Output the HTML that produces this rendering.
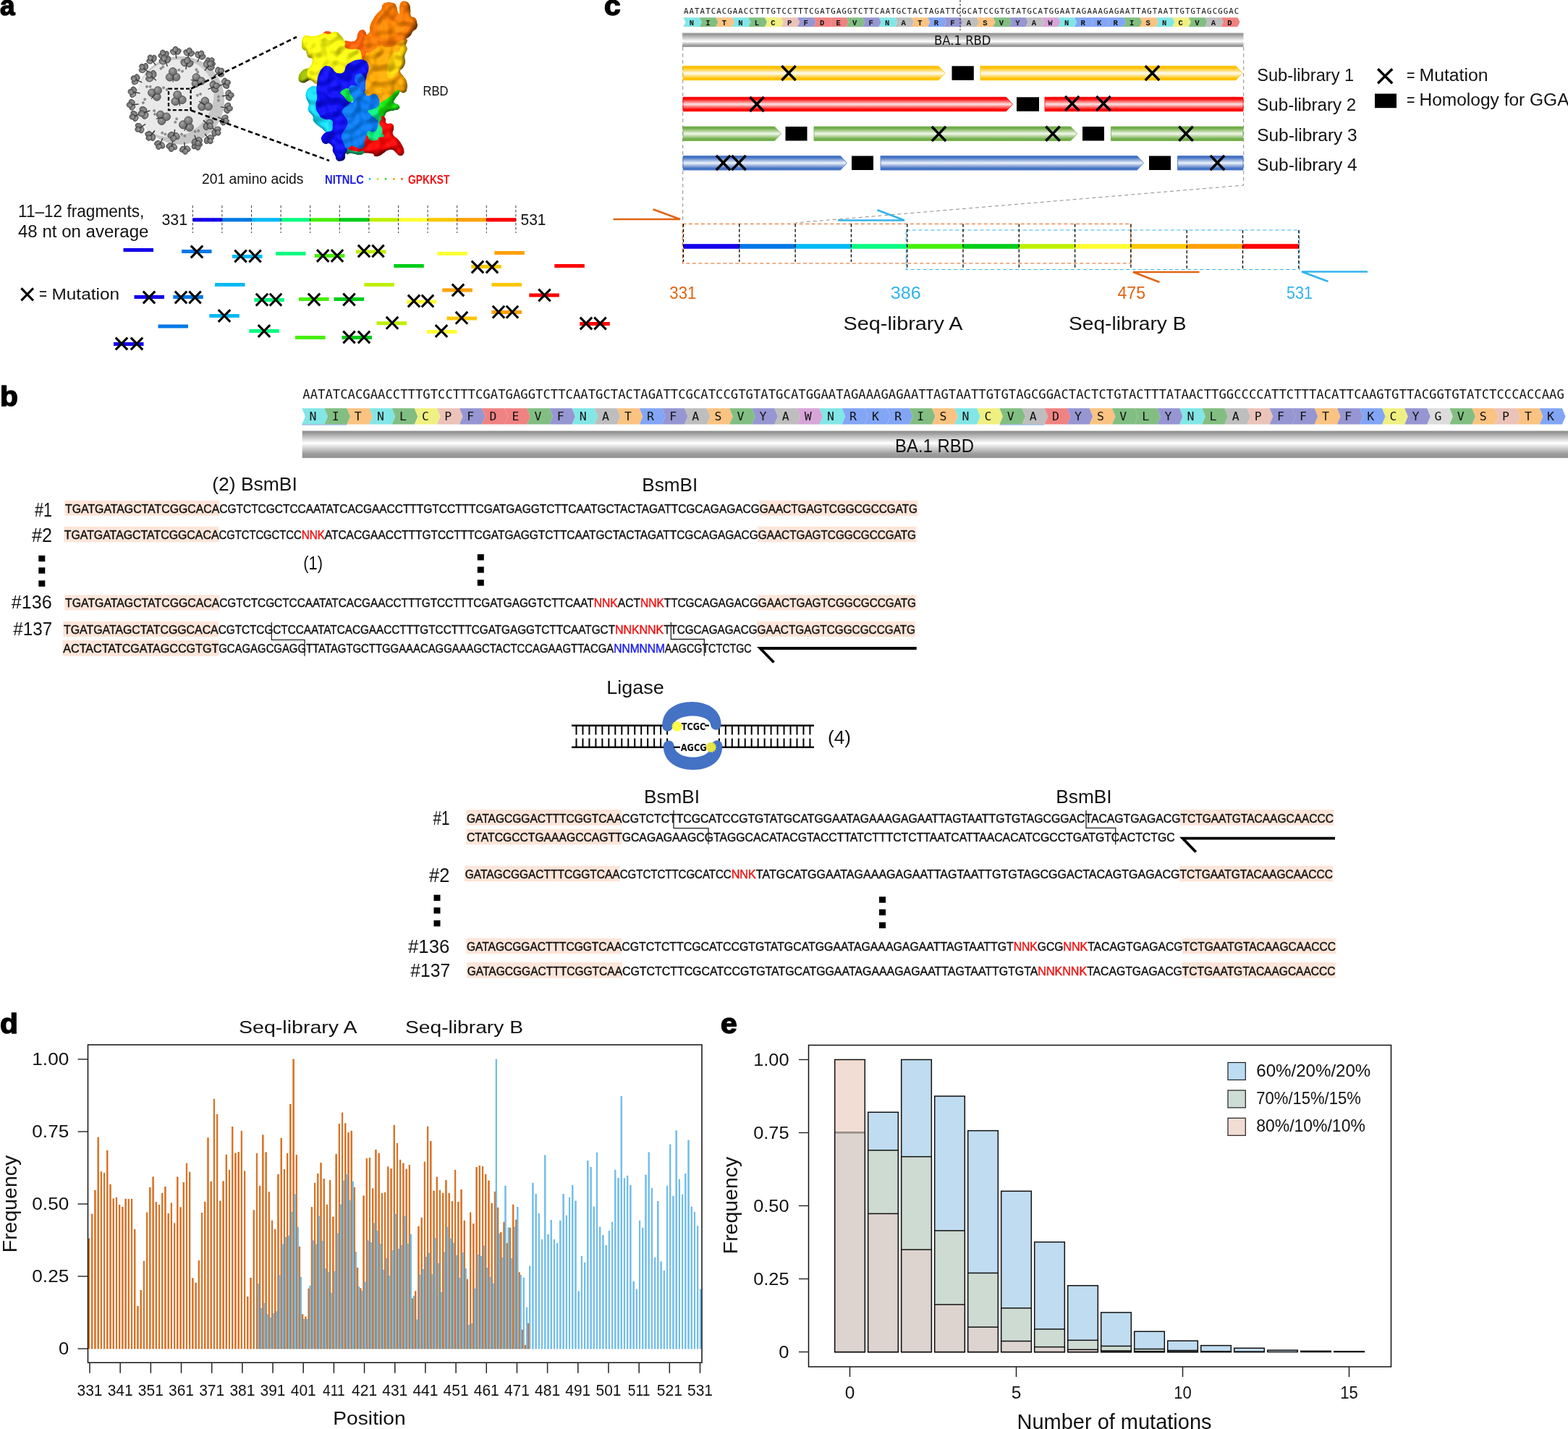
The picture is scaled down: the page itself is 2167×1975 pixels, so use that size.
<!DOCTYPE html>
<html lang="en"><head><meta charset="utf-8"><title>Figure</title>
<style>
html,body{margin:0;padding:0;background:#fff}
svg{display:block}
text{font-family:"Liberation Sans",Arial,sans-serif}
text.m,.mm text{font-family:"Liberation Mono","DejaVu Sans Mono",monospace}
text.d,.dd text{font-family:"DejaVu Sans Mono","Liberation Mono",monospace}
text.c{font-family:"DejaVu Sans","Liberation Sans",sans-serif}
</style></head>
<body>
<svg width="2167" height="1975" viewBox="0 0 2167 1975" role="img" aria-label="Figure: RBD deep mutational library design">
<text x="0" y="21.2" font-size="38.5" font-weight="bold" fill="#000" stroke="#000" stroke-width="1.5" stroke-linejoin="round" textLength="20.6" lengthAdjust="spacingAndGlyphs">a</text>
<defs><radialGradient id="sg" cx="0.4" cy="0.35" r="0.7"><stop offset="0" stop-color="#a2a2a2"/><stop offset="0.45" stop-color="#828282"/><stop offset="1" stop-color="#6a6a6a"/></radialGradient></defs>
<g>
<circle cx="249.2" cy="138.7" r="61" fill="#c6c6c6"/>
<ellipse cx="244.7" cy="131.2" rx="57" ry="51" fill="#e9e9e9" transform="rotate(-40 249.2 138.7)"/>
<circle cx="222.38" cy="94.79" r="1.5" fill="#9a9a9a" stroke="#5a5a5a" stroke-width="0.6"/>
<circle cx="225.15" cy="92.48" r="1.5" fill="#9a9a9a" stroke="#5a5a5a" stroke-width="0.6"/>
<circle cx="271.42" cy="96.18" r="1.5" fill="#9a9a9a" stroke="#5a5a5a" stroke-width="0.6"/>
<circle cx="273.27" cy="99.42" r="1.5" fill="#9a9a9a" stroke="#5a5a5a" stroke-width="0.6"/>
<circle cx="202.94" cy="119.78" r="1.5" fill="#9a9a9a" stroke="#5a5a5a" stroke-width="0.6"/>
<circle cx="207.57" cy="119.78" r="1.5" fill="#9a9a9a" stroke="#5a5a5a" stroke-width="0.6"/>
<circle cx="226.08" cy="121.17" r="1.5" fill="#9a9a9a" stroke="#5a5a5a" stroke-width="0.6"/>
<circle cx="230.7" cy="123.94" r="1.5" fill="#9a9a9a" stroke="#5a5a5a" stroke-width="0.6"/>
<circle cx="272.81" cy="131.81" r="1.5" fill="#9a9a9a" stroke="#5a5a5a" stroke-width="0.6"/>
<circle cx="276.97" cy="129.96" r="1.5" fill="#9a9a9a" stroke="#5a5a5a" stroke-width="0.6"/>
<circle cx="197.85" cy="141.99" r="1.5" fill="#9a9a9a" stroke="#5a5a5a" stroke-width="0.6"/>
<circle cx="200.17" cy="137.36" r="1.5" fill="#9a9a9a" stroke="#5a5a5a" stroke-width="0.6"/>
<circle cx="213.12" cy="153.09" r="1.5" fill="#9a9a9a" stroke="#5a5a5a" stroke-width="0.6"/>
<circle cx="214.05" cy="157.72" r="1.5" fill="#9a9a9a" stroke="#5a5a5a" stroke-width="0.6"/>
<circle cx="242.27" cy="168.83" r="1.5" fill="#9a9a9a" stroke="#5a5a5a" stroke-width="0.6"/>
<circle cx="244.12" cy="164.2" r="1.5" fill="#9a9a9a" stroke="#5a5a5a" stroke-width="0.6"/>
<circle cx="269.57" cy="181.78" r="1.5" fill="#9a9a9a" stroke="#5a5a5a" stroke-width="0.6"/>
<circle cx="274.2" cy="180.86" r="1.5" fill="#9a9a9a" stroke="#5a5a5a" stroke-width="0.6"/>
<circle cx="224.23" cy="183.63" r="1.5" fill="#9a9a9a" stroke="#5a5a5a" stroke-width="0.6"/>
<circle cx="228.39" cy="185.48" r="1.5" fill="#9a9a9a" stroke="#5a5a5a" stroke-width="0.6"/>
<circle cx="251.06" cy="185.48" r="1.5" fill="#9a9a9a" stroke="#5a5a5a" stroke-width="0.6"/>
<circle cx="255.23" cy="187.8" r="1.5" fill="#9a9a9a" stroke="#5a5a5a" stroke-width="0.6"/>
<circle cx="301.96" cy="133.66" r="1.5" fill="#9a9a9a" stroke="#5a5a5a" stroke-width="0.6"/>
<circle cx="301.96" cy="138.75" r="1.5" fill="#9a9a9a" stroke="#5a5a5a" stroke-width="0.6"/>
<circle cx="251.99" cy="98.49" r="1.5" fill="#9a9a9a" stroke="#5a5a5a" stroke-width="0.6"/>
<circle cx="247.36" cy="96.64" r="1.5" fill="#9a9a9a" stroke="#5a5a5a" stroke-width="0.6"/>
<ellipse cx="239.18" cy="71.96" rx="4.25" ry="3.25" fill="url(#sg)" stroke="#3a3a3a" stroke-width="0.8" transform="rotate(-133.44 239.18 71.96)"/>
<ellipse cx="246.46" cy="71.27" rx="4.25" ry="3.25" fill="url(#sg)" stroke="#3a3a3a" stroke-width="0.8" transform="rotate(-57.44 246.46 71.27)"/>
<ellipse cx="242.5" cy="68.27" rx="4.01" ry="3.42" fill="url(#sg)" stroke="#3a3a3a" stroke-width="0.8" transform="rotate(-95.44 242.5 68.27)"/>
<path d="M243.64 80.19L242.78 71.23" stroke="#3c3c3c" stroke-width="1.5" stroke-linecap="round"/>
<ellipse cx="257.49" cy="72.8" rx="4.25" ry="3.25" fill="url(#sg)" stroke="#3a3a3a" stroke-width="0.8" transform="rotate(-117.7 257.49 72.8)"/>
<ellipse cx="264.68" cy="74.11" rx="4.25" ry="3.25" fill="url(#sg)" stroke="#3a3a3a" stroke-width="0.8" transform="rotate(-41.7 264.68 74.11)"/>
<ellipse cx="261.69" cy="70.14" rx="4.01" ry="3.42" fill="url(#sg)" stroke="#3a3a3a" stroke-width="0.8" transform="rotate(-79.7 261.69 70.14)"/>
<path d="M259.54 81.93L261.15 73.07" stroke="#3c3c3c" stroke-width="1.5" stroke-linecap="round"/>
<ellipse cx="273.27" cy="75.61" rx="4.25" ry="3.25" fill="url(#sg)" stroke="#3a3a3a" stroke-width="0.8" transform="rotate(-104.04 273.27 75.61)"/>
<ellipse cx="279.96" cy="78.58" rx="4.25" ry="3.25" fill="url(#sg)" stroke="#3a3a3a" stroke-width="0.8" transform="rotate(-28.04 279.96 78.58)"/>
<ellipse cx="277.98" cy="74.02" rx="4.01" ry="3.42" fill="url(#sg)" stroke="#3a3a3a" stroke-width="0.8" transform="rotate(-66.04 277.98 74.02)"/>
<path d="M273.12 84.97L276.77 76.74" stroke="#3c3c3c" stroke-width="1.5" stroke-linecap="round"/>
<ellipse cx="287.43" cy="83.98" rx="4.25" ry="3.25" fill="url(#sg)" stroke="#3a3a3a" stroke-width="0.8" transform="rotate(-89.95 287.43 83.98)"/>
<ellipse cx="293.19" cy="88.49" rx="4.25" ry="3.25" fill="url(#sg)" stroke="#3a3a3a" stroke-width="0.8" transform="rotate(-13.95 293.19 88.49)"/>
<ellipse cx="292.38" cy="83.59" rx="4.01" ry="3.42" fill="url(#sg)" stroke="#3a3a3a" stroke-width="0.8" transform="rotate(-51.95 292.38 83.59)"/>
<path d="M285 93.02L290.55 85.93" stroke="#3c3c3c" stroke-width="1.5" stroke-linecap="round"/>
<ellipse cx="300.96" cy="96.97" rx="4.25" ry="3.25" fill="url(#sg)" stroke="#3a3a3a" stroke-width="0.8" transform="rotate(-73.77 300.96 96.97)"/>
<ellipse cx="305.23" cy="102.91" rx="4.25" ry="3.25" fill="url(#sg)" stroke="#3a3a3a" stroke-width="0.8" transform="rotate(2.23 305.23 102.91)"/>
<ellipse cx="305.82" cy="97.97" rx="4.01" ry="3.42" fill="url(#sg)" stroke="#3a3a3a" stroke-width="0.8" transform="rotate(-35.77 305.82 97.97)"/>
<path d="M296.1 104.97L303.41 99.71" stroke="#3c3c3c" stroke-width="1.5" stroke-linecap="round"/>
<ellipse cx="310.03" cy="112.04" rx="4.25" ry="3.25" fill="url(#sg)" stroke="#3a3a3a" stroke-width="0.8" transform="rotate(-58.56 310.03 112.04)"/>
<ellipse cx="312.6" cy="118.89" rx="4.25" ry="3.25" fill="url(#sg)" stroke="#3a3a3a" stroke-width="0.8" transform="rotate(17.44 312.6 118.89)"/>
<ellipse cx="314.46" cy="114.28" rx="4.01" ry="3.42" fill="url(#sg)" stroke="#3a3a3a" stroke-width="0.8" transform="rotate(-20.56 314.46 114.28)"/>
<path d="M303.25 118.49L311.67 115.33" stroke="#3c3c3c" stroke-width="1.5" stroke-linecap="round"/>
<ellipse cx="315.51" cy="128.26" rx="4.25" ry="3.25" fill="url(#sg)" stroke="#3a3a3a" stroke-width="0.8" transform="rotate(-43.87 315.51 128.26)"/>
<ellipse cx="316.26" cy="135.54" rx="4.25" ry="3.25" fill="url(#sg)" stroke="#3a3a3a" stroke-width="0.8" transform="rotate(32.13 316.26 135.54)"/>
<ellipse cx="319.23" cy="131.56" rx="4.01" ry="3.42" fill="url(#sg)" stroke="#3a3a3a" stroke-width="0.8" transform="rotate(-5.87 319.23 131.56)"/>
<path d="M307.32 132.78L316.27 131.86" stroke="#3c3c3c" stroke-width="1.5" stroke-linecap="round"/>
<ellipse cx="314.63" cy="145.64" rx="4.25" ry="3.25" fill="url(#sg)" stroke="#3a3a3a" stroke-width="0.8" transform="rotate(-28.8 314.63 145.64)"/>
<ellipse cx="313.46" cy="152.86" rx="4.25" ry="3.25" fill="url(#sg)" stroke="#3a3a3a" stroke-width="0.8" transform="rotate(47.2 313.46 152.86)"/>
<ellipse cx="317.36" cy="149.79" rx="4.01" ry="3.42" fill="url(#sg)" stroke="#3a3a3a" stroke-width="0.8" transform="rotate(9.2 317.36 149.79)"/>
<path d="M305.54 147.87L314.42 149.31" stroke="#3c3c3c" stroke-width="1.5" stroke-linecap="round"/>
<ellipse cx="310.97" cy="162.35" rx="4.25" ry="3.25" fill="url(#sg)" stroke="#3a3a3a" stroke-width="0.8" transform="rotate(-13.92 310.97 162.35)"/>
<ellipse cx="307.99" cy="169.03" rx="4.25" ry="3.25" fill="url(#sg)" stroke="#3a3a3a" stroke-width="0.8" transform="rotate(62.08 307.99 169.03)"/>
<ellipse cx="312.55" cy="167.06" rx="4.01" ry="3.42" fill="url(#sg)" stroke="#3a3a3a" stroke-width="0.8" transform="rotate(24.08 312.55 167.06)"/>
<path d="M301.62 162.17L309.83 165.85" stroke="#3c3c3c" stroke-width="1.5" stroke-linecap="round"/>
<ellipse cx="300.9" cy="178.43" rx="4.25" ry="3.25" fill="url(#sg)" stroke="#3a3a3a" stroke-width="0.8" transform="rotate(2.73 300.9 178.43)"/>
<ellipse cx="296.13" cy="183.98" rx="4.25" ry="3.25" fill="url(#sg)" stroke="#3a3a3a" stroke-width="0.8" transform="rotate(78.73 296.13 183.98)"/>
<ellipse cx="301.06" cy="183.4" rx="4.01" ry="3.42" fill="url(#sg)" stroke="#3a3a3a" stroke-width="0.8" transform="rotate(40.73 301.06 183.4)"/>
<path d="M291.99 175.58L298.81 181.46" stroke="#3c3c3c" stroke-width="1.5" stroke-linecap="round"/>
<ellipse cx="291.43" cy="190.01" rx="4.25" ry="3.25" fill="url(#sg)" stroke="#3a3a3a" stroke-width="0.8" transform="rotate(15.68 291.43 190.01)"/>
<ellipse cx="285.53" cy="194.34" rx="4.25" ry="3.25" fill="url(#sg)" stroke="#3a3a3a" stroke-width="0.8" transform="rotate(91.68 285.53 194.34)"/>
<ellipse cx="290.47" cy="194.88" rx="4.01" ry="3.42" fill="url(#sg)" stroke="#3a3a3a" stroke-width="0.8" transform="rotate(53.68 290.47 194.88)"/>
<path d="M283.38 185.23L288.71 192.48" stroke="#3c3c3c" stroke-width="1.5" stroke-linecap="round"/>
<ellipse cx="275.47" cy="199.11" rx="4.25" ry="3.25" fill="url(#sg)" stroke="#3a3a3a" stroke-width="0.8" transform="rotate(31.68 275.47 199.11)"/>
<ellipse cx="268.61" cy="201.66" rx="4.25" ry="3.25" fill="url(#sg)" stroke="#3a3a3a" stroke-width="0.8" transform="rotate(107.68 268.61 201.66)"/>
<ellipse cx="273.21" cy="203.54" rx="4.01" ry="3.42" fill="url(#sg)" stroke="#3a3a3a" stroke-width="0.8" transform="rotate(69.68 273.21 203.54)"/>
<path d="M269.05 192.31L272.17 200.75" stroke="#3c3c3c" stroke-width="1.5" stroke-linecap="round"/>
<ellipse cx="259.25" cy="205.54" rx="4.25" ry="3.25" fill="url(#sg)" stroke="#3a3a3a" stroke-width="0.8" transform="rotate(46.56 259.25 205.54)"/>
<ellipse cx="251.96" cy="206.23" rx="4.25" ry="3.25" fill="url(#sg)" stroke="#3a3a3a" stroke-width="0.8" transform="rotate(122.56 251.96 206.23)"/>
<ellipse cx="255.93" cy="209.23" rx="4.01" ry="3.42" fill="url(#sg)" stroke="#3a3a3a" stroke-width="0.8" transform="rotate(84.56 255.93 209.23)"/>
<path d="M254.79 197.31L255.64 206.27" stroke="#3c3c3c" stroke-width="1.5" stroke-linecap="round"/>
<ellipse cx="240.94" cy="202.87" rx="4.25" ry="3.25" fill="url(#sg)" stroke="#3a3a3a" stroke-width="0.8" transform="rotate(62.59 240.94 202.87)"/>
<ellipse cx="233.75" cy="201.52" rx="4.25" ry="3.25" fill="url(#sg)" stroke="#3a3a3a" stroke-width="0.8" transform="rotate(138.59 233.75 201.52)"/>
<ellipse cx="236.73" cy="205.5" rx="4.01" ry="3.42" fill="url(#sg)" stroke="#3a3a3a" stroke-width="0.8" transform="rotate(100.59 236.73 205.5)"/>
<path d="M238.93 193.73L237.27 202.57" stroke="#3c3c3c" stroke-width="1.5" stroke-linecap="round"/>
<ellipse cx="224.21" cy="201.03" rx="4.25" ry="3.25" fill="url(#sg)" stroke="#3a3a3a" stroke-width="0.8" transform="rotate(76.99 224.21 201.03)"/>
<ellipse cx="217.58" cy="197.94" rx="4.25" ry="3.25" fill="url(#sg)" stroke="#3a3a3a" stroke-width="0.8" transform="rotate(152.99 217.58 197.94)"/>
<ellipse cx="219.48" cy="202.54" rx="4.01" ry="3.42" fill="url(#sg)" stroke="#3a3a3a" stroke-width="0.8" transform="rotate(114.99 219.48 202.54)"/>
<path d="M224.54 191.68L220.74 199.84" stroke="#3c3c3c" stroke-width="1.5" stroke-linecap="round"/>
<ellipse cx="210.94" cy="189.94" rx="4.25" ry="3.25" fill="url(#sg)" stroke="#3a3a3a" stroke-width="0.8" transform="rotate(92.07 210.94 189.94)"/>
<ellipse cx="205.34" cy="185.23" rx="4.25" ry="3.25" fill="url(#sg)" stroke="#3a3a3a" stroke-width="0.8" transform="rotate(168.07 205.34 185.23)"/>
<ellipse cx="205.97" cy="190.16" rx="4.01" ry="3.42" fill="url(#sg)" stroke="#3a3a3a" stroke-width="0.8" transform="rotate(130.07 205.97 190.16)"/>
<path d="M213.68 180.99L207.89 187.88" stroke="#3c3c3c" stroke-width="1.5" stroke-linecap="round"/>
<ellipse cx="195.55" cy="179.68" rx="4.25" ry="3.25" fill="url(#sg)" stroke="#3a3a3a" stroke-width="0.8" transform="rotate(107.77 195.55 179.68)"/>
<ellipse cx="191.44" cy="173.63" rx="4.25" ry="3.25" fill="url(#sg)" stroke="#3a3a3a" stroke-width="0.8" transform="rotate(183.77 191.44 173.63)"/>
<ellipse cx="190.71" cy="178.55" rx="4.01" ry="3.42" fill="url(#sg)" stroke="#3a3a3a" stroke-width="0.8" transform="rotate(145.77 190.71 178.55)"/>
<path d="M200.62 171.81L193.18 176.87" stroke="#3c3c3c" stroke-width="1.5" stroke-linecap="round"/>
<ellipse cx="187.38" cy="163.67" rx="4.25" ry="3.25" fill="url(#sg)" stroke="#3a3a3a" stroke-width="0.8" transform="rotate(123.19 187.38 163.67)"/>
<ellipse cx="185.02" cy="156.75" rx="4.25" ry="3.25" fill="url(#sg)" stroke="#3a3a3a" stroke-width="0.8" transform="rotate(199.19 185.02 156.75)"/>
<ellipse cx="183.01" cy="161.3" rx="4.01" ry="3.42" fill="url(#sg)" stroke="#3a3a3a" stroke-width="0.8" transform="rotate(161.19 183.01 161.3)"/>
<path d="M194.35 157.43L185.83 160.34" stroke="#3c3c3c" stroke-width="1.5" stroke-linecap="round"/>
<ellipse cx="182.86" cy="148.33" rx="4.25" ry="3.25" fill="url(#sg)" stroke="#3a3a3a" stroke-width="0.8" transform="rotate(136.91 182.86 148.33)"/>
<ellipse cx="182.21" cy="141.04" rx="4.25" ry="3.25" fill="url(#sg)" stroke="#3a3a3a" stroke-width="0.8" transform="rotate(212.91 182.21 141.04)"/>
<ellipse cx="179.19" cy="144.98" rx="4.01" ry="3.42" fill="url(#sg)" stroke="#3a3a3a" stroke-width="0.8" transform="rotate(174.91 179.19 144.98)"/>
<path d="M191.12 143.92L182.16 144.72" stroke="#3c3c3c" stroke-width="1.5" stroke-linecap="round"/>
<ellipse cx="183.75" cy="130.94" rx="4.25" ry="3.25" fill="url(#sg)" stroke="#3a3a3a" stroke-width="0.8" transform="rotate(-208.02 183.75 130.94)"/>
<ellipse cx="185.01" cy="123.73" rx="4.25" ry="3.25" fill="url(#sg)" stroke="#3a3a3a" stroke-width="0.8" transform="rotate(-132.02 185.01 123.73)"/>
<ellipse cx="181.07" cy="126.75" rx="4.01" ry="3.42" fill="url(#sg)" stroke="#3a3a3a" stroke-width="0.8" transform="rotate(-170.02 181.07 126.75)"/>
<path d="M192.86 128.83L184 127.27" stroke="#3c3c3c" stroke-width="1.5" stroke-linecap="round"/>
<ellipse cx="186.45" cy="113.29" rx="4.25" ry="3.25" fill="url(#sg)" stroke="#3a3a3a" stroke-width="0.8" transform="rotate(-192.82 186.45 113.29)"/>
<ellipse cx="189.57" cy="106.67" rx="4.25" ry="3.25" fill="url(#sg)" stroke="#3a3a3a" stroke-width="0.8" transform="rotate(-116.82 189.57 106.67)"/>
<ellipse cx="184.97" cy="108.54" rx="4.01" ry="3.42" fill="url(#sg)" stroke="#3a3a3a" stroke-width="0.8" transform="rotate(-154.82 184.97 108.54)"/>
<path d="M195.81 113.64L187.66 109.81" stroke="#3c3c3c" stroke-width="1.5" stroke-linecap="round"/>
<ellipse cx="196.56" cy="97.2" rx="4.25" ry="3.25" fill="url(#sg)" stroke="#3a3a3a" stroke-width="0.8" transform="rotate(-176.59 196.56 97.2)"/>
<ellipse cx="201.4" cy="91.71" rx="4.25" ry="3.25" fill="url(#sg)" stroke="#3a3a3a" stroke-width="0.8" transform="rotate(-100.59 201.4 91.71)"/>
<ellipse cx="196.46" cy="92.23" rx="4.01" ry="3.42" fill="url(#sg)" stroke="#3a3a3a" stroke-width="0.8" transform="rotate(-138.59 196.46 92.23)"/>
<path d="M205.44 100.15L198.69 94.2" stroke="#3c3c3c" stroke-width="1.5" stroke-linecap="round"/>
<ellipse cx="206.93" cy="84.66" rx="4.25" ry="3.25" fill="url(#sg)" stroke="#3a3a3a" stroke-width="0.8" transform="rotate(-162.96 206.93 84.66)"/>
<ellipse cx="212.92" cy="80.47" rx="4.25" ry="3.25" fill="url(#sg)" stroke="#3a3a3a" stroke-width="0.8" transform="rotate(-86.96 212.92 80.47)"/>
<ellipse cx="208" cy="79.81" rx="4.01" ry="3.42" fill="url(#sg)" stroke="#3a3a3a" stroke-width="0.8" transform="rotate(-124.96 208 79.81)"/>
<path d="M214.86 89.62L209.71 82.25" stroke="#3c3c3c" stroke-width="1.5" stroke-linecap="round"/>
<ellipse cx="222.94" cy="77.44" rx="4.25" ry="3.25" fill="url(#sg)" stroke="#3a3a3a" stroke-width="0.8" transform="rotate(-148.05 222.94 77.44)"/>
<ellipse cx="229.82" cy="74.94" rx="4.25" ry="3.25" fill="url(#sg)" stroke="#3a3a3a" stroke-width="0.8" transform="rotate(-72.05 229.82 74.94)"/>
<ellipse cx="225.23" cy="73.03" rx="4.01" ry="3.42" fill="url(#sg)" stroke="#3a3a3a" stroke-width="0.8" transform="rotate(-110.05 225.23 73.03)"/>
<path d="M229.33 84.28L226.25 75.83" stroke="#3c3c3c" stroke-width="1.5" stroke-linecap="round"/>
<ellipse cx="224.45" cy="85.14" rx="4.75" ry="3.63" fill="url(#sg)" stroke="#3a3a3a" stroke-width="0.8" transform="rotate(-148.82 224.45 85.14)"/>
<ellipse cx="232.1" cy="82.23" rx="4.75" ry="3.63" fill="url(#sg)" stroke="#3a3a3a" stroke-width="0.8" transform="rotate(-72.82 232.1 82.23)"/>
<ellipse cx="226.94" cy="80.17" rx="4.49" ry="3.83" fill="url(#sg)" stroke="#3a3a3a" stroke-width="0.8" transform="rotate(-110.82 226.94 80.17)"/>
<path d="M231.13 91.17L228.11 83.23" stroke="#3c3c3c" stroke-width="1.5" stroke-linecap="round"/>
<ellipse cx="254.01" cy="86.74" rx="5.04" ry="3.85" fill="url(#sg)" stroke="#3a3a3a" stroke-width="0.8" transform="rotate(-117.96 254.01 86.74)"/>
<ellipse cx="262.56" cy="88.25" rx="5.04" ry="3.85" fill="url(#sg)" stroke="#3a3a3a" stroke-width="0.8" transform="rotate(-41.96 262.56 88.25)"/>
<ellipse cx="258.98" cy="83.57" rx="4.76" ry="4.06" fill="url(#sg)" stroke="#3a3a3a" stroke-width="0.8" transform="rotate(-79.96 258.98 83.57)"/>
<path d="M256.9 95.33L258.38 86.96" stroke="#3c3c3c" stroke-width="1.5" stroke-linecap="round"/>
<ellipse cx="285.21" cy="88.34" rx="4.75" ry="3.63" fill="url(#sg)" stroke="#3a3a3a" stroke-width="0.8" transform="rotate(-88.68 285.21 88.34)"/>
<ellipse cx="291.54" cy="93.52" rx="4.75" ry="3.63" fill="url(#sg)" stroke="#3a3a3a" stroke-width="0.8" transform="rotate(-12.68 291.54 93.52)"/>
<ellipse cx="290.76" cy="88.02" rx="4.49" ry="3.83" fill="url(#sg)" stroke="#3a3a3a" stroke-width="0.8" transform="rotate(-50.68 290.76 88.02)"/>
<path d="M283.3 97.13L288.69 90.55" stroke="#3c3c3c" stroke-width="1.5" stroke-linecap="round"/>
<ellipse cx="206.53" cy="108.98" rx="5.04" ry="3.85" fill="url(#sg)" stroke="#3a3a3a" stroke-width="0.8" transform="rotate(-178.32 206.53 108.98)"/>
<ellipse cx="212.07" cy="102.3" rx="5.04" ry="3.85" fill="url(#sg)" stroke="#3a3a3a" stroke-width="0.8" transform="rotate(-102.32 212.07 102.3)"/>
<ellipse cx="206.23" cy="103.1" rx="4.76" ry="4.06" fill="url(#sg)" stroke="#3a3a3a" stroke-width="0.8" transform="rotate(-140.32 206.23 103.1)"/>
<path d="M215.42 110.72L208.88 105.29" stroke="#3c3c3c" stroke-width="1.5" stroke-linecap="round"/>
<ellipse cx="293.96" cy="116.35" rx="4.75" ry="3.63" fill="url(#sg)" stroke="#3a3a3a" stroke-width="0.8" transform="rotate(-59.9 293.96 116.35)"/>
<ellipse cx="297.02" cy="123.94" rx="4.75" ry="3.63" fill="url(#sg)" stroke="#3a3a3a" stroke-width="0.8" transform="rotate(16.1 297.02 123.94)"/>
<ellipse cx="298.98" cy="118.74" rx="4.49" ry="3.83" fill="url(#sg)" stroke="#3a3a3a" stroke-width="0.8" transform="rotate(-21.9 298.98 118.74)"/>
<path d="M288.06 123.14L295.94 119.97" stroke="#3c3c3c" stroke-width="1.5" stroke-linecap="round"/>
<ellipse cx="200.69" cy="159.65" rx="5.04" ry="3.85" fill="url(#sg)" stroke="#3a3a3a" stroke-width="0.8" transform="rotate(123.41 200.69 159.65)"/>
<ellipse cx="197.93" cy="151.42" rx="5.04" ry="3.85" fill="url(#sg)" stroke="#3a3a3a" stroke-width="0.8" transform="rotate(199.41 197.93 151.42)"/>
<ellipse cx="195.53" cy="156.81" rx="4.76" ry="4.06" fill="url(#sg)" stroke="#3a3a3a" stroke-width="0.8" transform="rotate(161.41 195.53 156.81)"/>
<path d="M206.85 153L198.79 155.71" stroke="#3c3c3c" stroke-width="1.5" stroke-linecap="round"/>
<ellipse cx="290.02" cy="168.79" rx="4.75" ry="3.63" fill="url(#sg)" stroke="#3a3a3a" stroke-width="0.8" transform="rotate(2.99 290.02 168.79)"/>
<ellipse cx="284.65" cy="174.97" rx="4.75" ry="3.63" fill="url(#sg)" stroke="#3a3a3a" stroke-width="0.8" transform="rotate(78.99 284.65 174.97)"/>
<ellipse cx="290.17" cy="174.35" rx="4.49" ry="3.83" fill="url(#sg)" stroke="#3a3a3a" stroke-width="0.8" transform="rotate(40.99 290.17 174.35)"/>
<path d="M281.29 166.62L287.7 172.2" stroke="#3c3c3c" stroke-width="1.5" stroke-linecap="round"/>
<ellipse cx="211" cy="189.97" rx="4.32" ry="3.3" fill="url(#sg)" stroke="#3a3a3a" stroke-width="0.8" transform="rotate(92.07 211 189.97)"/>
<ellipse cx="205.3" cy="185.18" rx="4.32" ry="3.3" fill="url(#sg)" stroke="#3a3a3a" stroke-width="0.8" transform="rotate(168.07 205.3 185.18)"/>
<ellipse cx="205.95" cy="190.19" rx="4.08" ry="3.48" fill="url(#sg)" stroke="#3a3a3a" stroke-width="0.8" transform="rotate(130.07 205.95 190.19)"/>
<path d="M213.36 181.37L207.89 187.88" stroke="#3c3c3c" stroke-width="1.5" stroke-linecap="round"/>
<ellipse cx="244.16" cy="188.04" rx="4.75" ry="3.63" fill="url(#sg)" stroke="#3a3a3a" stroke-width="0.8" transform="rotate(62.59 244.16 188.04)"/>
<ellipse cx="236.12" cy="186.53" rx="4.75" ry="3.63" fill="url(#sg)" stroke="#3a3a3a" stroke-width="0.8" transform="rotate(138.59 236.12 186.53)"/>
<ellipse cx="239.45" cy="190.98" rx="4.49" ry="3.83" fill="url(#sg)" stroke="#3a3a3a" stroke-width="0.8" transform="rotate(100.59 239.45 190.98)"/>
<path d="M241.61 179.41L240.05 187.77" stroke="#3c3c3c" stroke-width="1.5" stroke-linecap="round"/>
<ellipse cx="275.45" cy="193.43" rx="4.32" ry="3.3" fill="url(#sg)" stroke="#3a3a3a" stroke-width="0.8" transform="rotate(29.88 275.45 193.43)"/>
<ellipse cx="268.56" cy="196.23" rx="4.32" ry="3.3" fill="url(#sg)" stroke="#3a3a3a" stroke-width="0.8" transform="rotate(105.88 268.56 196.23)"/>
<ellipse cx="273.3" cy="198" rx="4.08" ry="3.48" fill="url(#sg)" stroke="#3a3a3a" stroke-width="0.8" transform="rotate(67.88 273.3 198)"/>
<path d="M268.96 187.33L272.16 195.2" stroke="#3c3c3c" stroke-width="1.5" stroke-linecap="round"/>
<circle cx="243.56" cy="106.52" r="5.33" fill="url(#sg)" stroke="#3c3c3c" stroke-width="0.8"/>
<circle cx="234.63" cy="106.73" r="5.33" fill="url(#sg)" stroke="#3c3c3c" stroke-width="0.8"/>
<circle cx="238.91" cy="98.89" r="5.33" fill="url(#sg)" stroke="#3c3c3c" stroke-width="0.8"/>
<path d="M239.03 104.05l0.19 9.03" stroke="#3c3c3c" stroke-width="1.3" stroke-linecap="round"/>
<circle cx="270.31" cy="115.52" r="5.21" fill="url(#sg)" stroke="#3c3c3c" stroke-width="0.8"/>
<circle cx="271.23" cy="106.84" r="5.21" fill="url(#sg)" stroke="#3c3c3c" stroke-width="0.8"/>
<circle cx="278.29" cy="111.98" r="5.21" fill="url(#sg)" stroke="#3c3c3c" stroke-width="0.8"/>
<path d="M273.27 111.45l-8.77 -0.95" stroke="#3c3c3c" stroke-width="1.3" stroke-linecap="round"/>
<circle cx="216.84" cy="133.84" r="5.33" fill="url(#sg)" stroke="#3c3c3c" stroke-width="0.8"/>
<circle cx="209.87" cy="128.25" r="5.33" fill="url(#sg)" stroke="#3c3c3c" stroke-width="0.8"/>
<circle cx="218.2" cy="125.01" r="5.33" fill="url(#sg)" stroke="#3c3c3c" stroke-width="0.8"/>
<path d="M214.97 129.03l-5.67 7.03" stroke="#3c3c3c" stroke-width="1.3" stroke-linecap="round"/>
<circle cx="251.6" cy="138.03" r="5.58" fill="url(#sg)" stroke="#3c3c3c" stroke-width="0.8"/>
<circle cx="242.48" cy="140.11" r="5.58" fill="url(#sg)" stroke="#3c3c3c" stroke-width="0.8"/>
<circle cx="245.23" cy="131.17" r="5.58" fill="url(#sg)" stroke="#3c3c3c" stroke-width="0.8"/>
<path d="M246.44 136.44l2.07 9.22" stroke="#3c3c3c" stroke-width="1.3" stroke-linecap="round"/>
<circle cx="279.03" cy="147.42" r="5.33" fill="url(#sg)" stroke="#3c3c3c" stroke-width="0.8"/>
<circle cx="283.36" cy="139.61" r="5.33" fill="url(#sg)" stroke="#3c3c3c" stroke-width="0.8"/>
<circle cx="287.97" cy="147.26" r="5.33" fill="url(#sg)" stroke="#3c3c3c" stroke-width="0.8"/>
<path d="M283.45 144.76l-7.89 -4.4" stroke="#3c3c3c" stroke-width="1.3" stroke-linecap="round"/>
<circle cx="223.48" cy="167.23" r="5.33" fill="url(#sg)" stroke="#3c3c3c" stroke-width="0.8"/>
<circle cx="221.76" cy="158.46" r="5.33" fill="url(#sg)" stroke="#3c3c3c" stroke-width="0.8"/>
<circle cx="230.21" cy="161.35" r="5.33" fill="url(#sg)" stroke="#3c3c3c" stroke-width="0.8"/>
<path d="M225.15 162.35l-8.86 1.72" stroke="#3c3c3c" stroke-width="1.3" stroke-linecap="round"/>
<circle cx="261.82" cy="175.83" r="5.58" fill="url(#sg)" stroke="#3c3c3c" stroke-width="0.8"/>
<circle cx="253.13" cy="172.4" r="5.58" fill="url(#sg)" stroke="#3c3c3c" stroke-width="0.8"/>
<circle cx="260.45" cy="166.58" r="5.58" fill="url(#sg)" stroke="#3c3c3c" stroke-width="0.8"/>
<path d="M258.47 171.6l-3.5 8.78" stroke="#3c3c3c" stroke-width="1.3" stroke-linecap="round"/>
</g>
<rect x="233" y="122.6" width="30.6" height="29.6" fill="none" stroke="#000" stroke-width="2.3" stroke-dasharray="5 3"/>
<path d="M264 122.6L410 51M264 152.5L455 222" stroke="#000" stroke-width="2.6" stroke-dasharray="6.5 4" fill="none"/>
<defs><filter id="pl" x="-3%" y="-3%" width="106%" height="106%" color-interpolation-filters="sRGB"><feTurbulence type="fractalNoise" baseFrequency="0.085" numOctaves="1" seed="11" result="n"/><feColorMatrix in="n" type="matrix" values="0 0 0 0 0  0 0 0 0 0  0 0 0 0 0  1.2 0 0 0 -0.1" result="na"/><feGaussianBlur in="SourceAlpha" stdDeviation="2.5" result="sa"/><feComposite in="na" in2="sa" operator="arithmetic" k1="0.55" k2="0.1" k3="0.45" k4="0" result="h0"/><feGaussianBlur in="h0" stdDeviation="0.9" result="h"/><feDiffuseLighting in="h" surfaceScale="4.2" diffuseConstant="1.1" lighting-color="#fff" result="dl"><feDistantLight azimuth="240" elevation="62"/></feDiffuseLighting><feComposite in="SourceGraphic" in2="dl" operator="arithmetic" k1="0.95" k2="0.06" k3="0" k4="0" result="lit"/><feSpecularLighting in="h" surfaceScale="4.2" specularConstant="0.5" specularExponent="30" lighting-color="#fff" result="sp"><feDistantLight azimuth="240" elevation="66"/></feSpecularLighting><feComposite in="sp" in2="lit" operator="arithmetic" k1="0" k2="0.16" k3="1" k4="0" result="fin"/><feComposite in="fin" in2="SourceAlpha" operator="in"/></filter></defs>
<g filter="url(#pl)">
<path d="M423.75 127.86C425.09 123.84 424.73 124.02 428.21 121.61C431.7 119.2 431.61 119.02 435.36 119.82C439.11 120.62 439.11 119.2 440.71 124.29C442.32 129.38 440.71 129.82 440.71 136.79C440.71 143.75 439.64 140.54 440.71 147.5C441.79 154.46 441.61 154.64 444.29 160C446.96 165.36 445.36 163.75 449.64 165.36C453.93 166.96 454.82 163.21 458.57 165.36C462.32 167.5 461.61 167.68 462.14 172.5C462.68 177.32 463.57 178.48 460.36 181.43C457.14 184.38 455.98 183.66 451.43 182.32C446.88 180.98 450.27 181.25 445.18 176.96C440.09 172.68 438.21 173.12 434.46 168.04C430.71 162.95 435.09 164.82 432.68 160C430.27 155.18 428.04 156.79 426.43 151.96C424.82 147.14 428.12 149.02 427.32 143.93C426.52 138.84 424.82 139.82 423.75 135C422.68 130.18 422.41 131.88 423.75 127.86Z" fill="#14d7f5" stroke="#14d7f5" stroke-width="1.6" stroke-linejoin="round"/>
<path d="M413.04 107.14C413.04 103.12 413.66 103.48 416.61 100C419.55 96.52 419.37 96.34 422.86 95.54C426.34 94.73 426.07 94.38 428.21 97.32C430.36 100.27 431.07 101.07 430 105.36C428.93 109.64 428.66 109.2 424.64 111.61C420.62 114.02 420.09 114.73 416.61 113.39C413.12 112.05 413.04 111.16 413.04 107.14Z" fill="#96b400" stroke="#96b400" stroke-width="1.6" stroke-linejoin="round"/>
<path d="M424.2 70.54C425.13 68.39 425.4 68.48 428.21 68.75C431.03 69.02 431.96 68.48 433.57 71.43C435.18 74.38 435.18 76.16 433.57 78.57C431.96 80.98 430.76 80.27 428.21 79.46C425.67 78.66 426.29 78.57 425.09 75.89C423.88 73.21 423.26 72.68 424.2 70.54Z" fill="#f04a0a" stroke="#f04a0a" stroke-width="1" stroke-linejoin="round"/>
<path d="M446.96 45.98C448.04 44.24 448.48 43.71 451.43 43.3C454.38 42.9 454.64 43.17 456.79 44.64C458.93 46.12 459.64 46.61 458.57 48.21C457.5 49.82 456.43 49.73 453.21 50C450 50.27 449.73 50.31 447.86 49.11C445.98 47.9 445.89 47.72 446.96 45.98Z" fill="#f0500a" stroke="#f0500a" stroke-width="1" stroke-linejoin="round"/>
<path d="M443.39 106.25C445.8 104.64 448.48 104.29 451.43 105.36C454.38 106.43 454.55 107.68 453.21 109.82C451.88 111.96 449.91 112.23 446.96 112.5C444.02 112.77 444.46 112.59 443.39 110.71C442.32 108.84 440.98 107.86 443.39 106.25Z" fill="#f0280a" stroke="#f0280a" stroke-width="1" stroke-linejoin="round"/>
<path d="M474.64 62.5C474.64 59.29 473.21 58.48 476.43 57.14C479.64 55.8 480.54 58.57 485.36 58.04C490.18 57.5 489.55 58.84 492.5 55.36C495.45 51.88 493.04 50.45 495.18 46.43C497.32 42.41 496.96 42.77 499.64 41.96C502.32 41.16 501.96 41.34 504.11 43.75C506.25 46.16 504.91 46.52 506.79 50C508.66 53.48 510.36 50 510.36 55.36C510.36 60.71 508.12 59.82 506.79 67.86C505.45 75.89 508.04 78.39 505.89 82.14C503.75 85.89 502.05 83.04 499.64 80.36C497.23 77.68 500 76.43 497.86 73.21C495.71 70 496.79 70.71 492.5 69.64C488.21 68.57 488.39 70.18 483.57 69.64C478.75 69.11 479.11 70 476.43 67.86C473.75 65.71 474.64 65.71 474.64 62.5Z" fill="#f55a05" stroke="#f55a05" stroke-width="1.6" stroke-linejoin="round"/>
<path d="M417.5 61.61C417.5 56.79 417.14 55.4 419.29 51.79C421.43 48.17 420.89 49.82 424.64 49.55C428.39 49.29 426.96 51.03 431.79 50.89C436.61 50.76 435.89 50.31 440.71 49.11C445.54 47.9 443.57 47.28 447.86 46.88C452.14 46.47 450.45 48.57 455 47.77C459.55 46.96 458.75 44.06 463.04 44.2C467.32 44.33 465.54 44.33 469.29 48.21C473.04 52.1 473.39 51.79 475.54 57.14C477.68 62.5 473.48 62.59 476.43 66.07C479.38 69.55 480 67.95 485.36 68.75C490.71 69.55 490.54 67.68 494.29 68.75C498.04 69.82 496.52 68.84 497.86 72.32C499.2 75.8 499.82 77.14 498.75 80.36C497.68 83.57 498.3 81.16 494.29 83.04C490.27 84.91 489.91 84.2 485.36 86.61C480.8 89.02 481.79 88.39 479.11 91.07C476.43 93.75 477.5 92.86 476.43 95.54C475.36 98.21 477.14 97.59 475.54 100C473.93 102.41 473.48 102.77 471.07 103.57C468.66 104.38 470.18 103.48 467.5 102.68C464.82 101.88 465.89 102.23 462.14 100.89C458.39 99.55 458.75 99.02 455 98.21C451.25 97.41 451.79 97.41 449.64 98.21C447.5 99.02 448.39 98.48 447.86 100.89C447.32 103.3 448.93 103.04 447.86 106.25C446.79 109.46 446.96 108.66 444.29 111.61C441.61 114.55 442.68 116.07 438.93 116.07C435.18 116.07 435.27 114.02 431.79 111.61C428.3 109.2 429.2 112.05 427.32 108.04C425.45 104.02 424.46 103.84 425.54 98.21C426.61 92.59 429.02 94.64 430.89 89.29C432.77 83.93 433.39 83.84 431.79 80.36C430.18 76.88 427.68 80.62 425.54 77.68C423.39 74.73 426.52 73.48 424.64 70.54C422.77 67.59 421.43 70.54 419.29 67.86C417.14 65.18 417.5 66.43 417.5 61.61Z" fill="#f2f20a" stroke="#f2f20a" stroke-width="1.6" stroke-linejoin="round"/>
<path d="M508.57 69.64C511.79 63.75 511.79 62.23 516.61 57.14C521.43 52.05 519.55 54.02 524.64 52.68C529.73 51.34 527.68 52.68 533.57 52.68C539.46 52.68 537.32 52.14 544.29 52.68C551.25 53.21 551.43 53.66 556.79 54.46C562.14 55.27 561.07 52.95 562.14 55.36C563.21 57.77 560.36 58.75 560.36 62.5C560.36 66.25 562.68 63.57 562.14 67.86C561.61 72.14 559.38 71.43 558.57 76.79C557.77 82.14 560 80.89 559.46 85.71C558.93 90.54 558.93 89.11 556.79 92.86C554.64 96.61 552.32 94.46 552.32 98.21C552.32 101.96 554.11 101.07 556.79 105.36C559.46 109.64 559.64 107.68 561.25 112.5C562.86 117.32 562.95 116.88 562.14 121.43C561.34 125.98 561.52 126.34 558.57 127.68C555.62 129.02 555.54 125.89 552.32 125.89C549.11 125.89 551.34 125.54 547.86 127.68C544.38 129.82 546.07 129.29 540.71 133.04C535.36 136.79 534.82 136.96 530 140.18C525.18 143.39 527.05 145.36 524.64 143.75C522.23 142.14 523.3 138.84 521.96 134.82C520.63 130.8 523.12 130.89 520.18 130.36C517.23 129.82 515.89 132.77 512.14 133.04C508.39 133.3 510.36 133.39 507.68 131.25C505 129.11 504.02 130.45 503.21 125.89C502.41 121.34 504.2 122.77 505 116.07C505.8 109.38 504.82 110 505.89 103.57C506.96 97.14 508.04 99.46 508.57 94.64C509.11 89.82 509.02 90.98 507.68 87.5C506.34 84.02 504.64 86.25 504.11 83.04C503.57 79.82 504.55 80.8 505.89 76.79C507.23 72.77 505.36 75.54 508.57 69.64Z" fill="#f5a000" stroke="#f5a000" stroke-width="1.6" stroke-linejoin="round"/>
<path d="M538.93 80.36C541.34 75.54 540.54 75.89 544.29 73.21C548.04 70.54 547.68 74.64 551.43 71.43C555.18 68.21 553.97 64.64 556.79 62.5C559.6 60.36 559.6 61.61 560.8 64.29C562.01 66.96 561.61 67.14 560.8 71.43C560 75.71 558.79 73.75 558.12 78.57C557.46 83.39 559.51 82.95 558.57 87.5C557.63 92.05 558.21 90 555 93.75C551.79 97.5 552.14 95.98 547.86 100C543.57 104.02 544.46 106.07 540.71 107.14C536.96 108.21 536.7 108.93 535.36 103.57C534.02 98.21 535.18 96.25 536.25 89.29C537.32 82.32 536.52 85.18 538.93 80.36Z" fill="#f8cd05" stroke="#f8cd05" stroke-width="1" stroke-linejoin="round"/>
<path d="M512.14 35.71C513.48 30.62 513.04 32.5 515.71 27.68C518.39 22.86 517.59 23.93 521.07 19.64C524.55 15.36 524.91 17.14 527.32 13.39C529.73 9.64 526.96 9.96 529.11 7.14C531.25 4.33 530.45 4.82 534.46 4.02C538.48 3.21 538.75 3.26 542.5 4.46C546.25 5.67 544.96 4.55 546.96 8.04C548.97 11.52 547.59 12.59 549.2 16.07C550.8 19.55 551.25 21.79 552.32 19.64C553.39 17.5 551.96 13.75 552.77 8.93C553.57 4.11 552.99 5.58 555 3.57C557.01 1.56 556.52 1.7 559.46 2.23C562.41 2.77 562.68 2.01 564.82 5.36C566.96 8.71 565.8 8.3 566.61 13.39C567.41 18.48 565.62 18.84 567.5 22.32C569.38 25.8 570.45 22.59 572.86 25C575.27 27.41 574.73 26.34 575.54 30.36C576.34 34.38 577.14 34.64 575.54 38.39C573.93 42.14 573.12 39.38 570.18 42.86C567.23 46.34 569.73 46.38 565.71 50C561.7 53.62 561.61 52.77 556.79 54.91C551.96 57.05 553.39 54.87 549.64 57.14C545.89 59.42 549.11 60.36 544.29 62.5C539.46 64.64 539.46 64.29 533.57 64.29C527.68 64.29 529.73 61.43 524.64 62.5C519.55 63.57 520.89 65.18 516.61 67.86C512.32 70.54 513.84 71.43 510.36 71.43C506.88 71.43 507.14 72.14 505 67.86C502.86 63.57 502.95 62.5 503.21 57.14C503.48 51.79 503.48 53.75 505.89 50C508.3 46.25 509.38 48.93 511.25 44.64C513.12 40.36 510.8 40.8 512.14 35.71Z" fill="#f07300" stroke="#f07300" stroke-width="1.6" stroke-linejoin="round"/>
<path d="M521.96 33.93C523.04 28.84 522.95 29.82 526.43 27.68C529.91 25.54 529.82 25.98 533.57 26.79C537.32 27.59 535.18 29.02 538.93 30.36C542.68 31.7 541.79 31.52 546.07 31.25C550.36 30.98 549.46 28.39 553.21 29.46C556.96 30.54 556.96 31.61 558.57 34.82C560.18 38.04 560.71 37.23 558.57 40.18C556.43 43.12 556.25 41.7 551.43 44.64C546.61 47.59 547.86 47.59 542.5 50C537.14 52.41 538.39 52.41 533.57 52.68C528.75 52.95 529.64 53.3 526.43 50.89C523.21 48.48 524.2 49.73 522.86 44.64C521.52 39.55 520.89 39.02 521.96 33.93Z" fill="#f58200" stroke="#f58200" stroke-width="1" stroke-linejoin="round"/>
<path d="M521.07 148.39C521.88 145.18 521.96 146.34 524.64 143.93C527.32 141.52 525.18 143.57 530 140.36C534.82 137.14 535.36 137.5 540.71 133.21C546.07 128.93 544.64 127.68 547.86 126.07C551.07 124.46 552.23 124.64 551.43 127.86C550.62 131.07 547.32 132.5 545.18 136.79C543.04 141.07 542.68 139.46 544.29 142.14C545.89 144.82 548.66 143.3 550.54 145.71C552.41 148.12 552.41 148.3 550.54 150.18C548.66 152.05 549.11 150.62 544.29 151.96C539.46 153.3 538.75 151.83 534.46 154.64C530.18 157.46 532.68 159.6 530 161.34C527.32 163.08 527.95 162.46 525.54 160.45C523.13 158.44 523.3 158.26 521.96 154.64C520.62 151.03 520.27 151.61 521.07 148.39Z" fill="#14dc0a" stroke="#14dc0a" stroke-width="1.6" stroke-linejoin="round"/>
<path d="M527.32 161.79C530.54 160.45 529.91 160.89 531.79 163.57C533.66 166.25 530.62 168.3 533.57 170.71C536.52 173.12 538.66 169.46 541.61 171.61C544.55 173.75 543.12 173.57 543.39 177.86C543.66 182.14 540.62 181.34 542.5 185.89C544.38 190.45 546.16 189.02 549.64 193.04C553.12 197.05 551.7 195 554.11 199.29C556.52 203.57 556.88 203.3 557.68 207.32C558.48 211.34 558.39 210.54 556.79 212.68C555.18 214.82 555 215 552.32 214.46C549.64 213.93 550.8 213.3 547.86 210.89C544.91 208.48 546.25 207.5 542.5 206.43C538.75 205.36 539.11 205.98 535.36 207.32C531.61 208.66 533.21 208.75 530 210.89C526.79 213.04 528.12 213.12 524.64 214.46C521.16 215.8 521.34 216.16 518.39 215.36C515.45 214.55 519.38 213.12 514.82 211.79C510.27 210.45 508.3 211.43 503.21 210.89C498.12 210.36 501.61 210.8 497.86 210C494.11 209.2 495.27 209.02 490.71 208.21C486.16 207.41 485.62 208.66 482.68 207.32C479.73 205.98 480.09 205.89 480.89 203.75C481.7 201.61 481.34 201.52 485.36 200.18C489.38 198.84 488.93 202.23 494.29 199.29C499.64 196.34 497.86 195.71 503.21 190.36C508.57 185 506.79 188.13 512.14 181.43C517.5 174.73 516.52 173.93 521.07 168.04C525.62 162.14 524.11 163.12 527.32 161.79Z" fill="#fa0505" stroke="#fa0505" stroke-width="1.6" stroke-linejoin="round"/>
<path d="M507.68 152.86C508.21 149.91 510.8 151.52 514.82 150.18C518.84 148.84 518.66 146.52 521.07 148.39C523.48 150.27 521.25 151.88 522.86 156.43C524.46 160.98 526.16 159.29 526.43 163.57C526.7 167.86 523.48 166.7 523.75 170.71C524.02 174.73 525.98 172.95 527.32 176.96C528.66 180.98 527.41 180.62 528.21 184.11C529.02 187.59 531.34 186.96 530 188.57C528.66 190.18 526.43 188.12 523.75 189.46C521.07 190.8 524.55 191.96 521.07 193.04C517.59 194.11 515.89 194.64 512.14 193.04C508.39 191.43 510.18 189.82 508.57 187.68C506.96 185.54 506.79 188.04 506.79 185.89C506.79 183.75 505.89 181.88 508.57 180.54C511.25 179.2 512.23 182.23 515.71 181.43C519.2 180.63 518.3 181.61 520.18 177.86C522.05 174.11 522.23 172.68 521.96 168.93C521.7 165.18 521.96 168.04 519.29 165.36C516.61 162.68 516.52 163.75 513.04 160C509.55 156.25 507.14 155.8 507.68 152.86Z" fill="#05e178" stroke="#05e178" stroke-width="1" stroke-linejoin="round"/>
<path d="M479.11 206.43C480.98 205.09 480.8 207.14 485.36 208.21C489.91 209.29 489.46 209.73 494.29 210C499.11 210.27 499.02 208.57 501.43 209.11C503.84 209.64 503.93 210.45 502.32 211.79C500.71 213.12 501.16 213.57 496.07 213.57C490.98 213.57 490.45 212.05 485.36 211.79C480.27 211.52 480.98 214.29 479.11 212.68C477.23 211.07 477.23 207.77 479.11 206.43Z" fill="#05c878" stroke="#05c878" stroke-width="1" stroke-linejoin="round"/>
<path d="M438.93 115.36C439.73 109.46 438.3 111.07 440.71 104.64C443.12 98.21 443.21 97.68 446.96 93.93C450.71 90.18 449.73 91.88 453.21 92.14C456.7 92.41 455.89 92.68 458.57 94.82C461.25 96.96 459.46 97.14 462.14 99.29C464.82 101.43 463.48 101.7 467.5 101.96C471.52 102.23 472.05 103.39 475.54 100.18C479.02 96.96 476.16 95.27 479.11 91.25C482.05 87.23 480.8 89.2 485.36 86.79C489.91 84.37 488.93 84.02 494.29 83.21C499.64 82.41 499.2 82.5 503.21 84.11C507.23 85.71 506.07 85.09 507.68 88.57C509.29 92.05 509.11 90.89 508.57 95.71C508.04 100.54 507.23 98.75 505.89 104.64C504.55 110.54 504.91 108.93 504.11 115.36C503.3 121.79 505.09 123.93 503.21 126.07C501.34 128.21 501.61 124.64 497.86 122.5C494.11 120.36 495.27 119.2 490.71 118.93C486.16 118.66 486.96 120.27 482.68 121.61C478.39 122.95 479.91 121.52 476.43 123.39C472.95 125.27 471.61 125.18 471.07 127.86C470.54 130.54 471.43 130.18 474.64 132.32C477.86 134.46 478.57 132.86 481.79 135C485 137.14 485.62 136.25 485.36 139.46C485.09 142.68 484.38 141.7 480.89 145.71C477.41 149.73 475.36 149.11 473.75 152.86C472.14 156.61 473.39 153.93 475.54 158.21C477.68 162.5 479.82 161.79 480.89 167.14C481.96 172.5 481.52 170.18 479.11 176.07C476.7 181.96 474.2 181.16 472.86 186.79C471.52 192.41 473.57 191.07 474.64 194.82C475.71 198.57 475.09 195.8 476.43 199.29C477.77 202.77 479.11 202.14 479.11 206.43C479.11 210.71 477.5 209.55 476.43 213.57C475.36 217.59 477.41 217.28 475.54 219.82C473.66 222.37 473.12 221.79 470.18 222.05C467.23 222.32 467.59 222.72 465.71 220.71C463.84 218.71 465.54 219.11 463.93 215.36C462.32 211.61 461.43 211.96 460.36 208.21C459.29 204.46 461.96 206.07 460.36 202.86C458.75 199.64 458.21 198.84 455 197.5C451.79 196.16 452.59 199.46 449.64 198.39C446.7 197.32 446.25 197.14 445.18 193.93C444.11 190.71 444.2 190.89 446.07 187.68C447.95 184.46 447.68 185.09 451.43 183.21C455.18 181.34 455.89 184.11 458.57 181.43C461.25 178.75 460.36 179.11 460.36 174.29C460.36 169.46 462.32 168.57 458.57 165.36C454.82 162.14 453.21 166.25 447.86 163.57C442.5 160.89 443.93 161.79 440.71 156.43C437.5 151.07 437.68 152.14 437.14 145.71C436.61 139.29 438.66 141.43 438.93 135C439.2 128.57 438.04 130.18 438.04 124.29C438.04 118.39 438.12 121.25 438.93 115.36Z" fill="#0a0aeb" stroke="#0a0aeb" stroke-width="1.6" stroke-linejoin="round"/>
<path d="M482.68 121.61C484.29 117.59 486.16 118.66 490.71 118.93C495.27 119.2 494.11 119.82 497.86 122.5C501.61 125.18 500 124.64 503.21 127.86C506.43 131.07 504.29 132.41 508.57 133.21C512.86 134.02 513.48 130 517.5 130.54C521.52 131.07 520.09 131.79 521.96 135C523.84 138.21 524.02 137.5 523.75 141.25C523.48 145 523.75 144.82 521.07 147.5C518.39 150.18 518.84 148.57 514.82 150.18C510.8 151.79 508.21 149.91 507.68 152.86C507.14 155.8 509.55 156.25 513.04 160C516.52 163.75 516.61 162.68 519.29 165.36C521.96 168.04 521.7 165.18 521.96 168.93C522.23 172.68 522.05 174.11 520.18 177.86C518.3 181.61 519.2 180.63 515.71 181.43C512.23 182.23 511.52 179.2 508.57 180.54C505.62 181.88 507.5 181.61 505.89 185.89C504.29 190.18 504.29 190 503.21 194.82C502.14 199.64 503.93 199.02 502.32 201.96C500.71 204.91 501.34 204.64 497.86 204.64C494.38 204.64 494.46 203.04 490.71 201.96C486.96 200.89 488.84 200.27 485.36 201.07C481.88 201.88 481.79 205.18 479.11 204.64C476.43 204.11 477.77 202.23 476.43 199.29C475.09 196.34 475.71 198.57 474.64 194.82C473.57 191.07 471.52 192.41 472.86 186.79C474.2 181.16 476.7 181.96 479.11 176.07C481.52 170.18 481.96 172.5 480.89 167.14C479.82 161.79 477.68 162.5 475.54 158.21C473.39 153.93 472.14 156.61 473.75 152.86C475.36 149.11 476.34 149.73 480.89 145.71C485.45 141.7 487.59 143.48 488.93 139.46C490.27 135.45 487.23 137.68 485.36 132.32C483.48 126.96 481.07 125.62 482.68 121.61Z" fill="#0573e6" stroke="#0573e6" stroke-width="1.6" stroke-linejoin="round"/>
<path d="M494.29 102.86C497.5 101.79 498.48 100.89 501.43 104.64C504.38 108.39 503.57 108.93 504.11 115.36C504.64 121.79 505.09 123.93 503.21 126.07C501.34 128.21 501.07 125.71 497.86 122.5C494.64 119.29 494.64 119.64 492.5 115.36C490.36 111.07 490.18 111.96 490.71 108.21C491.25 104.46 491.07 103.93 494.29 102.86Z" fill="#0a5aeb" stroke="#0a5aeb" stroke-width="1" stroke-linejoin="round"/>
<path d="M471.07 127.86C471.61 125.18 473.48 124.73 476.43 123.39C479.38 122.05 478.75 121.52 480.89 123.39C483.04 125.27 481.43 125.62 483.57 129.64C485.71 133.66 487.5 133.57 488.04 136.79C488.57 140 487.5 139.55 485.36 140.36C483.21 141.16 484.11 141.88 480.89 139.46C477.68 137.05 477.59 135.8 474.64 132.32C471.7 128.84 470.54 130.54 471.07 127.86Z" fill="#05dc3c" stroke="#05dc3c" stroke-width="0.8" stroke-linejoin="round"/>
</g>
<text x="584.5" y="131.8" font-size="17.5" fill="#111" textLength="35" lengthAdjust="spacingAndGlyphs">RBD</text>
<text x="279" y="254.2" font-size="19.3" fill="#111" textLength="140.5" lengthAdjust="spacingAndGlyphs">201 amino acids</text>
<text x="449" y="254" font-size="16.5" fill="#1a1ae6" font-weight="bold" textLength="54" lengthAdjust="spacingAndGlyphs">NITNLC</text>
<circle cx="511" cy="247.5" r="1.4" fill="#14c8f0"/>
<circle cx="522" cy="247.5" r="1.4" fill="#b4e614"/>
<circle cx="533" cy="247.5" r="1.4" fill="#32dc32"/>
<circle cx="544.3" cy="247.5" r="1.4" fill="#fa9b0a"/>
<circle cx="555.5" cy="247.5" r="1.4" fill="#fa5a0a"/>
<text x="564" y="254" font-size="16.5" fill="#f01414" font-weight="bold" textLength="57.5" lengthAdjust="spacingAndGlyphs">GPKKST</text>
<text x="25" y="299.9" font-size="23" fill="#111" textLength="174.3" lengthAdjust="spacingAndGlyphs">11–12 fragments,</text>
<text x="25" y="327.6" font-size="23" fill="#111" textLength="180.5" lengthAdjust="spacingAndGlyphs">48 nt on average</text>
<text x="223.5" y="310.5" font-size="22.3" fill="#111" textLength="35.6" lengthAdjust="spacingAndGlyphs">331</text>
<text x="719.5" y="310.5" font-size="22.3" fill="#111" textLength="35" lengthAdjust="spacingAndGlyphs">531</text>
<rect x="266.3" y="301.2" width="40.9" height="5.2" fill="#1400eb"/>
<rect x="306.9" y="301.2" width="40.9" height="5.2" fill="#0078e6"/>
<rect x="347.5" y="301.2" width="40.9" height="5.2" fill="#00b9f5"/>
<rect x="388.1" y="301.2" width="40.9" height="5.2" fill="#0afa82"/>
<rect x="428.7" y="301.2" width="40.9" height="5.2" fill="#46f00a"/>
<rect x="469.3" y="301.2" width="40.9" height="5.2" fill="#00cd19"/>
<rect x="509.9" y="301.2" width="40.9" height="5.2" fill="#bef000"/>
<rect x="550.5" y="301.2" width="40.9" height="5.2" fill="#ffff32"/>
<rect x="591.1" y="301.2" width="40.9" height="5.2" fill="#fac800"/>
<rect x="631.7" y="301.2" width="40.9" height="5.2" fill="#ffa000"/>
<rect x="672.3" y="301.2" width="40.9" height="5.2" fill="#ff0000"/>
<line x1="266.3" y1="284" x2="266.3" y2="322" stroke="#222" stroke-width="0.9" stroke-dasharray="3.5 2.5"/>
<line x1="306.9" y1="284" x2="306.9" y2="322" stroke="#222" stroke-width="0.9" stroke-dasharray="3.5 2.5"/>
<line x1="347.5" y1="284" x2="347.5" y2="322" stroke="#222" stroke-width="0.9" stroke-dasharray="3.5 2.5"/>
<line x1="388.1" y1="284" x2="388.1" y2="322" stroke="#222" stroke-width="0.9" stroke-dasharray="3.5 2.5"/>
<line x1="428.7" y1="284" x2="428.7" y2="322" stroke="#222" stroke-width="0.9" stroke-dasharray="3.5 2.5"/>
<line x1="469.3" y1="284" x2="469.3" y2="322" stroke="#222" stroke-width="0.9" stroke-dasharray="3.5 2.5"/>
<line x1="509.9" y1="284" x2="509.9" y2="322" stroke="#222" stroke-width="0.9" stroke-dasharray="3.5 2.5"/>
<line x1="550.5" y1="284" x2="550.5" y2="322" stroke="#222" stroke-width="0.9" stroke-dasharray="3.5 2.5"/>
<line x1="591.1" y1="284" x2="591.1" y2="322" stroke="#222" stroke-width="0.9" stroke-dasharray="3.5 2.5"/>
<line x1="631.7" y1="284" x2="631.7" y2="322" stroke="#222" stroke-width="0.9" stroke-dasharray="3.5 2.5"/>
<line x1="672.3" y1="284" x2="672.3" y2="322" stroke="#222" stroke-width="0.9" stroke-dasharray="3.5 2.5"/>
<line x1="712.9" y1="284" x2="712.9" y2="322" stroke="#222" stroke-width="0.9" stroke-dasharray="3.5 2.5"/>
<path d="M29.4 398.4L46 415.4M46 398.4L29.4 415.4" stroke="#000" stroke-width="3" fill="none"/>
<text x="54" y="414" font-size="23" fill="#111" textLength="11" lengthAdjust="spacingAndGlyphs">=</text>
<text x="71.5" y="414.2" font-size="22.8" fill="#111" textLength="93.5" lengthAdjust="spacingAndGlyphs">Mutation</text>
<rect x="170.5" y="343" width="41.5" height="5" fill="#1400eb"/>
<rect x="251" y="345" width="41.5" height="5" fill="#0078e6"/>
<rect x="321" y="352" width="41.5" height="5" fill="#00b9f5"/>
<rect x="381" y="348" width="41.5" height="5" fill="#0afa82"/>
<rect x="434.8" y="351" width="41.5" height="5" fill="#46f00a"/>
<rect x="492" y="345.5" width="41.5" height="5" fill="#bef000"/>
<rect x="544.3" y="365" width="41.5" height="5" fill="#00cd19"/>
<rect x="604.3" y="348" width="41.5" height="5" fill="#ffff32"/>
<rect x="651.3" y="366" width="41.5" height="5" fill="#fac800"/>
<rect x="683.3" y="347" width="41.5" height="5" fill="#ffa000"/>
<rect x="766.3" y="365" width="41.5" height="5" fill="#ff0000"/>
<rect x="297" y="391" width="41.5" height="5" fill="#00b9f5"/>
<rect x="185.5" y="408" width="41.5" height="5" fill="#1400eb"/>
<rect x="239.3" y="408" width="41.5" height="5" fill="#0078e6"/>
<rect x="351.3" y="412" width="41.5" height="5" fill="#0afa82"/>
<rect x="413" y="411" width="41.5" height="5" fill="#46f00a"/>
<rect x="461.5" y="411" width="41.5" height="5" fill="#00cd19"/>
<rect x="503.3" y="391" width="41.5" height="5" fill="#bef000"/>
<rect x="561.8" y="414.5" width="41.5" height="5" fill="#ffff32"/>
<rect x="611.3" y="398.5" width="41.5" height="5" fill="#ffa000"/>
<rect x="679.5" y="391" width="41.5" height="5" fill="#fac800"/>
<rect x="731.3" y="405.5" width="41.5" height="5" fill="#ff0000"/>
<rect x="289.3" y="434" width="41.5" height="5" fill="#00b9f5"/>
<rect x="218.5" y="448.5" width="41.5" height="5" fill="#0078e6"/>
<rect x="344.3" y="455" width="41.5" height="5" fill="#0afa82"/>
<rect x="408" y="464" width="41.5" height="5" fill="#46f00a"/>
<rect x="472.5" y="464" width="41.5" height="5" fill="#00cd19"/>
<rect x="520.5" y="444.2" width="41.5" height="5" fill="#bef000"/>
<rect x="590" y="456" width="41.5" height="5" fill="#ffff32"/>
<rect x="617.5" y="437.5" width="41.5" height="5" fill="#fac800"/>
<rect x="679.5" y="429" width="41.5" height="5" fill="#ffa000"/>
<rect x="801.3" y="445" width="41.5" height="5" fill="#ff0000"/>
<rect x="157" y="473" width="41.5" height="5" fill="#1400eb"/>
<path d="M263.8 339.6L280.2 356.4M280.2 339.6L263.8 356.4" stroke="#000" stroke-width="3" fill="none"/>
<path d="M324.3 345.6L340.7 362.4M340.7 345.6L324.3 362.4" stroke="#000" stroke-width="3" fill="none"/>
<path d="M344.3 345.6L360.7 362.4M360.7 345.6L344.3 362.4" stroke="#000" stroke-width="3" fill="none"/>
<path d="M438 345.1L454.4 361.9M454.4 345.1L438 361.9" stroke="#000" stroke-width="3" fill="none"/>
<path d="M457.8 345.1L474.2 361.9M474.2 345.1L457.8 361.9" stroke="#000" stroke-width="3" fill="none"/>
<path d="M494.8 338.6L511.2 355.4M511.2 338.6L494.8 355.4" stroke="#000" stroke-width="3" fill="none"/>
<path d="M514.3 338.6L530.7 355.4M530.7 338.6L514.3 355.4" stroke="#000" stroke-width="3" fill="none"/>
<path d="M651.8 360.6L668.2 377.4M668.2 360.6L651.8 377.4" stroke="#000" stroke-width="3" fill="none"/>
<path d="M671.8 360.6L688.2 377.4M688.2 360.6L671.8 377.4" stroke="#000" stroke-width="3" fill="none"/>
<path d="M197.8 402.6L214.2 419.4M214.2 402.6L197.8 419.4" stroke="#000" stroke-width="3" fill="none"/>
<path d="M241.8 402.6L258.2 419.4M258.2 402.6L241.8 419.4" stroke="#000" stroke-width="3" fill="none"/>
<path d="M261.3 402.6L277.7 419.4M277.7 402.6L261.3 419.4" stroke="#000" stroke-width="3" fill="none"/>
<path d="M353.8 405.8L370.2 422.6M370.2 405.8L353.8 422.6" stroke="#000" stroke-width="3" fill="none"/>
<path d="M372.8 405.8L389.2 422.6M389.2 405.8L372.8 422.6" stroke="#000" stroke-width="3" fill="none"/>
<path d="M425.8 405.6L442.2 422.4M442.2 405.6L425.8 422.4" stroke="#000" stroke-width="3" fill="none"/>
<path d="M474.3 405.6L490.7 422.4M490.7 405.6L474.3 422.4" stroke="#000" stroke-width="3" fill="none"/>
<path d="M563.8 407.6L580.2 424.4M580.2 407.6L563.8 424.4" stroke="#000" stroke-width="3" fill="none"/>
<path d="M582.8 407.6L599.2 424.4M599.2 407.6L582.8 424.4" stroke="#000" stroke-width="3" fill="none"/>
<path d="M624.8 392.6L641.2 409.4M641.2 392.6L624.8 409.4" stroke="#000" stroke-width="3" fill="none"/>
<path d="M744.3 399.6L760.7 416.4M760.7 399.6L744.3 416.4" stroke="#000" stroke-width="3" fill="none"/>
<path d="M301.8 428.1L318.2 444.9M318.2 428.1L301.8 444.9" stroke="#000" stroke-width="3" fill="none"/>
<path d="M356.8 449.1L373.2 465.9M373.2 449.1L356.8 465.9" stroke="#000" stroke-width="3" fill="none"/>
<path d="M474.3 457.6L490.7 474.4M490.7 457.6L474.3 474.4" stroke="#000" stroke-width="3" fill="none"/>
<path d="M494.8 457.6L511.2 474.4M511.2 457.6L494.8 474.4" stroke="#000" stroke-width="3" fill="none"/>
<path d="M533.8 437.9L550.2 454.7M550.2 437.9L533.8 454.7" stroke="#000" stroke-width="3" fill="none"/>
<path d="M601.8 449.1L618.2 465.9M618.2 449.1L601.8 465.9" stroke="#000" stroke-width="3" fill="none"/>
<path d="M629.8 430.9L646.2 447.7M646.2 430.9L629.8 447.7" stroke="#000" stroke-width="3" fill="none"/>
<path d="M680.8 422.8L697.2 439.6M697.2 422.8L680.8 439.6" stroke="#000" stroke-width="3" fill="none"/>
<path d="M699.8 422.8L716.2 439.6M716.2 422.8L699.8 439.6" stroke="#000" stroke-width="3" fill="none"/>
<path d="M801.8 438.6L818.2 455.4M818.2 438.6L801.8 455.4" stroke="#000" stroke-width="3" fill="none"/>
<path d="M821.3 438.6L837.7 455.4M837.7 438.6L821.3 455.4" stroke="#000" stroke-width="3" fill="none"/>
<path d="M159.8 466.6L176.2 483.4M176.2 466.6L159.8 483.4" stroke="#000" stroke-width="3" fill="none"/>
<path d="M180.8 466.6L197.2 483.4M197.2 466.6L180.8 483.4" stroke="#000" stroke-width="3" fill="none"/>
<text x="835" y="21.2" font-size="38.5" font-weight="bold" fill="#000" stroke="#000" stroke-width="1.5" stroke-linejoin="round" textLength="22.7" lengthAdjust="spacingAndGlyphs">c</text>
<defs>
<linearGradient id="gGrey" x1="0" y1="0" x2="0" y2="1"><stop offset="0" stop-color="#9a9a9a"/><stop offset="0.12" stop-color="#9a9a9a"/><stop offset="0.6" stop-color="#ffffff"/><stop offset="0.88" stop-color="#9a9a9a"/><stop offset="1" stop-color="#9a9a9a"/></linearGradient>
<linearGradient id="gGold" x1="0" y1="0" x2="0" y2="1"><stop offset="0" stop-color="#ffc000"/><stop offset="0.12" stop-color="#ffc000"/><stop offset="0.52" stop-color="#fffdf2"/><stop offset="0.88" stop-color="#ffc000"/><stop offset="1" stop-color="#ffc000"/></linearGradient>
<linearGradient id="gRed" x1="0" y1="0" x2="0" y2="1"><stop offset="0" stop-color="#ff0000"/><stop offset="0.12" stop-color="#ff0000"/><stop offset="0.5" stop-color="#ffe6e6"/><stop offset="0.88" stop-color="#ff0000"/><stop offset="1" stop-color="#ff0000"/></linearGradient>
<linearGradient id="gGreen" x1="0" y1="0" x2="0" y2="1"><stop offset="0" stop-color="#70ad47"/><stop offset="0.12" stop-color="#70ad47"/><stop offset="0.5" stop-color="#f2f8ec"/><stop offset="0.88" stop-color="#70ad47"/><stop offset="1" stop-color="#70ad47"/></linearGradient>
<linearGradient id="gBlue" x1="0" y1="0" x2="0" y2="1"><stop offset="0" stop-color="#4472c4"/><stop offset="0.12" stop-color="#4472c4"/><stop offset="0.5" stop-color="#eef2fa"/><stop offset="0.88" stop-color="#4472c4"/><stop offset="1" stop-color="#4472c4"/></linearGradient>
</defs>
<text x="945" y="18.7" font-size="10.7" fill="#111" class="d" textLength="767.2" lengthAdjust="spacing">AATATCACGAACCTTTGTCCTTTCGATGAGGTCTTCAATGCTACTAGATTCGCATCCGTGTATGCATGGAATAGAAAGAGAATTAGTAATTGTGTAGCGGAC</text>
<path d="M944.3 24.2L966.83 24.2L970.03 30.6L966.83 37L944.3 37L947.5 30.6Z" fill="#82e6e6"/>
<path d="M966.83 24.2L989.36 24.2L992.56 30.6L989.36 37L966.83 37L970.03 30.6Z" fill="#82be82"/>
<path d="M989.36 24.2L1011.89 24.2L1015.09 30.6L1011.89 37L989.36 37L992.56 30.6Z" fill="#fac382"/>
<path d="M1011.89 24.2L1034.42 24.2L1037.62 30.6L1034.42 37L1011.89 37L1015.09 30.6Z" fill="#82e6e6"/>
<path d="M1034.42 24.2L1056.95 24.2L1060.15 30.6L1056.95 37L1034.42 37L1037.62 30.6Z" fill="#82be82"/>
<path d="M1056.95 24.2L1079.48 24.2L1082.68 30.6L1079.48 37L1056.95 37L1060.15 30.6Z" fill="#f0f082"/>
<path d="M1079.48 24.2L1102.01 24.2L1105.21 30.6L1102.01 37L1079.48 37L1082.68 30.6Z" fill="#ebc3b9"/>
<path d="M1102.01 24.2L1124.54 24.2L1127.74 30.6L1124.54 37L1102.01 37L1105.21 30.6Z" fill="#9696d2"/>
<path d="M1124.54 24.2L1147.07 24.2L1150.27 30.6L1147.07 37L1124.54 37L1127.74 30.6Z" fill="#f08282"/>
<path d="M1147.07 24.2L1169.6 24.2L1172.8 30.6L1169.6 37L1147.07 37L1150.27 30.6Z" fill="#f08282"/>
<path d="M1169.6 24.2L1192.13 24.2L1195.33 30.6L1192.13 37L1169.6 37L1172.8 30.6Z" fill="#82be82"/>
<path d="M1192.13 24.2L1214.66 24.2L1217.86 30.6L1214.66 37L1192.13 37L1195.33 30.6Z" fill="#9696d2"/>
<path d="M1214.66 24.2L1237.19 24.2L1240.39 30.6L1237.19 37L1214.66 37L1217.86 30.6Z" fill="#82e6e6"/>
<path d="M1237.19 24.2L1259.72 24.2L1262.92 30.6L1259.72 37L1237.19 37L1240.39 30.6Z" fill="#bebebe"/>
<path d="M1259.72 24.2L1282.25 24.2L1285.45 30.6L1282.25 37L1259.72 37L1262.92 30.6Z" fill="#fac382"/>
<path d="M1282.25 24.2L1304.78 24.2L1307.98 30.6L1304.78 37L1282.25 37L1285.45 30.6Z" fill="#82a5f5"/>
<path d="M1304.78 24.2L1327.31 24.2L1330.51 30.6L1327.31 37L1304.78 37L1307.98 30.6Z" fill="#9696d2"/>
<path d="M1327.31 24.2L1349.84 24.2L1353.04 30.6L1349.84 37L1327.31 37L1330.51 30.6Z" fill="#bebebe"/>
<path d="M1349.84 24.2L1372.37 24.2L1375.57 30.6L1372.37 37L1349.84 37L1353.04 30.6Z" fill="#fac382"/>
<path d="M1372.37 24.2L1394.9 24.2L1398.1 30.6L1394.9 37L1372.37 37L1375.57 30.6Z" fill="#82be82"/>
<path d="M1394.9 24.2L1417.43 24.2L1420.63 30.6L1417.43 37L1394.9 37L1398.1 30.6Z" fill="#9696d2"/>
<path d="M1417.43 24.2L1439.96 24.2L1443.16 30.6L1439.96 37L1417.43 37L1420.63 30.6Z" fill="#bebebe"/>
<path d="M1439.96 24.2L1462.49 24.2L1465.69 30.6L1462.49 37L1439.96 37L1443.16 30.6Z" fill="#d7a5d7"/>
<path d="M1462.49 24.2L1485.02 24.2L1488.22 30.6L1485.02 37L1462.49 37L1465.69 30.6Z" fill="#82e6e6"/>
<path d="M1485.02 24.2L1507.55 24.2L1510.75 30.6L1507.55 37L1485.02 37L1488.22 30.6Z" fill="#82a5f5"/>
<path d="M1507.55 24.2L1530.08 24.2L1533.28 30.6L1530.08 37L1507.55 37L1510.75 30.6Z" fill="#82a5f5"/>
<path d="M1530.08 24.2L1552.61 24.2L1555.81 30.6L1552.61 37L1530.08 37L1533.28 30.6Z" fill="#82a5f5"/>
<path d="M1552.61 24.2L1575.14 24.2L1578.34 30.6L1575.14 37L1552.61 37L1555.81 30.6Z" fill="#82be82"/>
<path d="M1575.14 24.2L1597.67 24.2L1600.87 30.6L1597.67 37L1575.14 37L1578.34 30.6Z" fill="#fac382"/>
<path d="M1597.67 24.2L1620.2 24.2L1623.4 30.6L1620.2 37L1597.67 37L1600.87 30.6Z" fill="#82e6e6"/>
<path d="M1620.2 24.2L1642.73 24.2L1645.93 30.6L1642.73 37L1620.2 37L1623.4 30.6Z" fill="#f0f082"/>
<path d="M1642.73 24.2L1665.26 24.2L1668.46 30.6L1665.26 37L1642.73 37L1645.93 30.6Z" fill="#82be82"/>
<path d="M1665.26 24.2L1687.79 24.2L1690.99 30.6L1687.79 37L1665.26 37L1668.46 30.6Z" fill="#bebebe"/>
<path d="M1687.79 24.2L1710.32 24.2L1713.52 30.6L1710.32 37L1687.79 37L1690.99 30.6Z" fill="#f08282"/>
<g class="mm" font-size="10.5" text-anchor="middle" fill="#111" font-weight="bold"><text x="955.87" y="34.6">N</text><text x="978.39" y="34.6">I</text><text x="1000.92" y="34.6">T</text><text x="1023.45" y="34.6">N</text><text x="1045.99" y="34.6">L</text><text x="1068.52" y="34.6">C</text><text x="1091.05" y="34.6">P</text><text x="1113.58" y="34.6">F</text><text x="1136.11" y="34.6">D</text><text x="1158.63" y="34.6">E</text><text x="1181.16" y="34.6">V</text><text x="1203.69" y="34.6">F</text><text x="1226.22" y="34.6">N</text><text x="1248.76" y="34.6">A</text><text x="1271.29" y="34.6">T</text><text x="1293.82" y="34.6">R</text><text x="1316.35" y="34.6">F</text><text x="1338.88" y="34.6">A</text><text x="1361.4" y="34.6">S</text><text x="1383.93" y="34.6">V</text><text x="1406.47" y="34.6">Y</text><text x="1428.99" y="34.6">A</text><text x="1451.53" y="34.6">W</text><text x="1474.06" y="34.6">N</text><text x="1496.59" y="34.6">R</text><text x="1519.12" y="34.6">K</text><text x="1541.64" y="34.6">R</text><text x="1564.18" y="34.6">I</text><text x="1586.7" y="34.6">S</text><text x="1609.24" y="34.6">N</text><text x="1631.77" y="34.6">C</text><text x="1654.3" y="34.6">V</text><text x="1676.83" y="34.6">A</text><text x="1699.36" y="34.6">D</text></g>
<line x1="1327" y1="0" x2="1327" y2="42" stroke="#222" stroke-width="1" stroke-dasharray="3 2"/>
<rect x="943" y="45.5" width="775.5" height="19.5" fill="url(#gGrey)"/>
<text x="1291" y="62" font-size="18" fill="#111" class="c" textLength="78.5" lengthAdjust="spacingAndGlyphs">BA.1 RBD</text>
<path d="M943.7 65V308M1718.7 65V256L1099 308" fill="none" stroke="#8c8c8c" stroke-width="1" stroke-dasharray="5 4"/>
<path d="M944 91.3H1297L1306 101.05L1297 110.8H944Z" fill="url(#gGold)" stroke="#ffc000" stroke-width="0.8"/>
<path d="M1355 91.3H1708L1717 101.05L1708 110.8H1355Z" fill="url(#gGold)" stroke="#ffc000" stroke-width="0.8"/>
<rect x="1315.5" y="91.3" width="30.3" height="19.5" fill="#000"/>
<path d="M944 134.3H1390.5L1399.5 144.05L1390.5 153.8H944Z" fill="url(#gRed)" stroke="#ff0000" stroke-width="0.8"/>
<path d="M1444 134.3H1718V153.8H1444Z" fill="url(#gRed)" stroke="#ff0000" stroke-width="0.8"/>
<rect x="1405" y="134.3" width="31" height="19.5" fill="#000"/>
<path d="M944 175H1070.5L1079.5 184.75L1070.5 194.5H944Z" fill="url(#gGreen)" stroke="#70ad47" stroke-width="0.8"/>
<path d="M1125 175H1479.7L1488.7 184.75L1479.7 194.5H1125Z" fill="url(#gGreen)" stroke="#70ad47" stroke-width="0.8"/>
<path d="M1535.5 175H1718V194.5H1535.5Z" fill="url(#gGreen)" stroke="#70ad47" stroke-width="0.8"/>
<rect x="1085.5" y="175" width="30" height="19.5" fill="#000"/>
<rect x="1496" y="175" width="30" height="19.5" fill="#000"/>
<path d="M944 215.5H1161.5L1170.5 225.25L1161.5 235H944Z" fill="url(#gBlue)" stroke="#4472c4" stroke-width="0.8"/>
<path d="M1217 215.5H1571.5L1580.5 225.25L1571.5 235H1217Z" fill="url(#gBlue)" stroke="#4472c4" stroke-width="0.8"/>
<path d="M1627.5 215.5H1718V235H1627.5Z" fill="url(#gBlue)" stroke="#4472c4" stroke-width="0.8"/>
<rect x="1177" y="215.5" width="30" height="19.5" fill="#000"/>
<rect x="1588" y="215.5" width="30" height="19.5" fill="#000"/>
<path d="M1080.35 91L1099.65 111M1099.65 91L1080.35 111" stroke="#000" stroke-width="3.4" fill="none"/>
<path d="M1582.85 91L1602.15 111M1602.15 91L1582.85 111" stroke="#000" stroke-width="3.4" fill="none"/>
<path d="M1036.35 134L1055.65 154M1055.65 134L1036.35 154" stroke="#000" stroke-width="3.4" fill="none"/>
<path d="M1472.05 133L1491.35 153M1491.35 133L1472.05 153" stroke="#000" stroke-width="3.4" fill="none"/>
<path d="M1515.35 133L1534.65 153M1534.65 133L1515.35 153" stroke="#000" stroke-width="3.4" fill="none"/>
<path d="M1287.85 175L1307.15 195M1307.15 175L1287.85 195" stroke="#000" stroke-width="3.4" fill="none"/>
<path d="M1445.35 174.7L1464.65 194.7M1464.65 174.7L1445.35 194.7" stroke="#000" stroke-width="3.4" fill="none"/>
<path d="M1629.35 174.7L1648.65 194.7M1648.65 174.7L1629.35 194.7" stroke="#000" stroke-width="3.4" fill="none"/>
<path d="M989.85 215L1009.15 235M1009.15 215L989.85 235" stroke="#000" stroke-width="3.4" fill="none"/>
<path d="M1011.35 215L1030.65 235M1030.65 215L1011.35 235" stroke="#000" stroke-width="3.4" fill="none"/>
<path d="M1672.85 215L1692.15 235M1692.15 215L1672.85 235" stroke="#000" stroke-width="3.4" fill="none"/>
<text x="1737.2" y="112.4" font-size="23.5" fill="#111" textLength="134" lengthAdjust="spacingAndGlyphs">Sub-library 1</text>
<text x="1737.2" y="153.2" font-size="23.5" fill="#111" textLength="137" lengthAdjust="spacingAndGlyphs">Sub-library 2</text>
<text x="1737.2" y="195" font-size="23.5" fill="#111" textLength="138.5" lengthAdjust="spacingAndGlyphs">Sub-library 3</text>
<text x="1737.2" y="236.2" font-size="23.5" fill="#111" textLength="138.5" lengthAdjust="spacingAndGlyphs">Sub-library 4</text>
<path d="M1904.2 95.2L1924.2 115.2M1924.2 95.2L1904.2 115.2" stroke="#000" stroke-width="3.4" fill="none"/>
<text x="1944" y="112.3" font-size="23.5" fill="#111" textLength="11.5" lengthAdjust="spacingAndGlyphs">=</text>
<text x="1961.5" y="112.4" font-size="23.5" fill="#111" textLength="95" lengthAdjust="spacingAndGlyphs">Mutation</text>
<rect x="1900" y="129.5" width="30" height="19.7" fill="#000"/>
<text x="1944" y="146" font-size="23.5" fill="#111" textLength="11.5" lengthAdjust="spacingAndGlyphs">=</text>
<text x="1961.5" y="146.2" font-size="23.5" fill="#111" textLength="207" lengthAdjust="spacingAndGlyphs">Homology for GGA</text>
<path d="M847.5 303H940L902.5 289.3" fill="none" stroke="#e06414" stroke-width="2.6" stroke-linejoin="miter"/>
<path d="M1158 304.5H1250L1212.5 290.3" fill="none" stroke="#32b4eb" stroke-width="2.6"/>
<path d="M1657.5 376H1566L1602.5 390" fill="none" stroke="#e06414" stroke-width="2.6"/>
<path d="M1890 375.5H1799L1835.5 389" fill="none" stroke="#32b4eb" stroke-width="2.6"/>
<rect x="944.5" y="337.2" width="77.6" height="6.6" fill="#1400eb"/>
<rect x="1021.8" y="337.2" width="77.6" height="6.6" fill="#0078e6"/>
<rect x="1099.1" y="337.2" width="77.6" height="6.6" fill="#00b9f5"/>
<rect x="1176.4" y="337.2" width="77.6" height="6.6" fill="#0afa82"/>
<rect x="1253.7" y="337.2" width="77.6" height="6.6" fill="#46f00a"/>
<rect x="1331" y="337.2" width="77.6" height="6.6" fill="#00cd19"/>
<rect x="1408.3" y="337.2" width="77.6" height="6.6" fill="#bef000"/>
<rect x="1485.6" y="337.2" width="77.6" height="6.6" fill="#ffff32"/>
<rect x="1562.9" y="337.2" width="77.6" height="6.6" fill="#fac800"/>
<rect x="1640.2" y="337.2" width="77.6" height="6.6" fill="#ffa000"/>
<rect x="1717.5" y="337.2" width="77.6" height="6.6" fill="#ff0000"/>
<rect x="943.3" y="309.5" width="619.5" height="54.5" fill="none" stroke="#e06414" stroke-width="1.1" stroke-dasharray="5 3.5"/>
<rect x="1252.3" y="318" width="543.7" height="54.5" fill="none" stroke="#32b4eb" stroke-width="1.1" stroke-dasharray="5 3.5"/>
<line x1="944.5" y1="309.5" x2="944.5" y2="362" stroke="#000" stroke-width="1.3" stroke-dasharray="4.2 2.8"/>
<line x1="1021.8" y1="309.5" x2="1021.8" y2="362" stroke="#000" stroke-width="1.3" stroke-dasharray="4.2 2.8"/>
<line x1="1099.1" y1="309.5" x2="1099.1" y2="362" stroke="#000" stroke-width="1.3" stroke-dasharray="4.2 2.8"/>
<line x1="1176.4" y1="309.5" x2="1176.4" y2="362" stroke="#000" stroke-width="1.3" stroke-dasharray="4.2 2.8"/>
<line x1="1253.7" y1="309.5" x2="1253.7" y2="371" stroke="#000" stroke-width="1.3" stroke-dasharray="4.2 2.8"/>
<line x1="1331" y1="309.5" x2="1331" y2="371" stroke="#000" stroke-width="1.3" stroke-dasharray="4.2 2.8"/>
<line x1="1408.3" y1="309.5" x2="1408.3" y2="371" stroke="#000" stroke-width="1.3" stroke-dasharray="4.2 2.8"/>
<line x1="1485.6" y1="309.5" x2="1485.6" y2="371" stroke="#000" stroke-width="1.3" stroke-dasharray="4.2 2.8"/>
<line x1="1562.9" y1="309.5" x2="1562.9" y2="371" stroke="#000" stroke-width="1.3" stroke-dasharray="4.2 2.8"/>
<line x1="1640.2" y1="318" x2="1640.2" y2="371" stroke="#000" stroke-width="1.3" stroke-dasharray="4.2 2.8"/>
<line x1="1717.5" y1="318" x2="1717.5" y2="371" stroke="#000" stroke-width="1.3" stroke-dasharray="4.2 2.8"/>
<line x1="1794.8" y1="318" x2="1794.8" y2="371" stroke="#000" stroke-width="1.3" stroke-dasharray="4.2 2.8"/>
<text x="925.3" y="413" font-size="23.5" fill="#e06414" textLength="37" lengthAdjust="spacingAndGlyphs">331</text>
<text x="1230.8" y="413" font-size="23.5" fill="#32b4eb" textLength="42" lengthAdjust="spacingAndGlyphs">386</text>
<text x="1544.5" y="413" font-size="23.5" fill="#e06414" textLength="38.5" lengthAdjust="spacingAndGlyphs">475</text>
<text x="1778" y="413" font-size="23.5" fill="#32b4eb" textLength="36" lengthAdjust="spacingAndGlyphs">531</text>
<text x="1165.5" y="455.8" font-size="26.5" fill="#111" textLength="165" lengthAdjust="spacingAndGlyphs">Seq-library A</text>
<text x="1477" y="455.8" font-size="26.5" fill="#111" textLength="162.5" lengthAdjust="spacingAndGlyphs">Seq-library B</text>
<text x="0" y="560.6" font-size="38.5" font-weight="bold" fill="#000" stroke="#000" stroke-width="1.5" stroke-linejoin="round" textLength="24.9" lengthAdjust="spacingAndGlyphs">b</text>
<text x="418.3" y="551.4" font-size="17.2" fill="#111" class="d" textLength="1743.5" lengthAdjust="spacing">AATATCACGAACCTTTGTCCTTTCGATGAGGTCTTCAATGCTACTAGATTCGCATCCGTGTATGCATGGAATAGAAAGAGAATTAGTAATTGTGTAGCGGACTACTCTGTACTTTATAACTTGGCCCCATTCTTTACATTCAAGTGTTACGGTGTATCTCCCACCAAG</text>
<path d="M417.3 564.2L448.4 564.2L453 575.4L448.4 586.6L417.3 586.6L421.9 575.4Z" fill="#82e6e6"/>
<path d="M448.4 564.2L479.5 564.2L484.1 575.4L479.5 586.6L448.4 586.6L453 575.4Z" fill="#82be82"/>
<path d="M479.5 564.2L510.6 564.2L515.2 575.4L510.6 586.6L479.5 586.6L484.1 575.4Z" fill="#fac382"/>
<path d="M510.6 564.2L541.7 564.2L546.3 575.4L541.7 586.6L510.6 586.6L515.2 575.4Z" fill="#82e6e6"/>
<path d="M541.7 564.2L572.8 564.2L577.4 575.4L572.8 586.6L541.7 586.6L546.3 575.4Z" fill="#82be82"/>
<path d="M572.8 564.2L603.9 564.2L608.5 575.4L603.9 586.6L572.8 586.6L577.4 575.4Z" fill="#f0f082"/>
<path d="M603.9 564.2L635 564.2L639.6 575.4L635 586.6L603.9 586.6L608.5 575.4Z" fill="#ebc3b9"/>
<path d="M635 564.2L666.1 564.2L670.7 575.4L666.1 586.6L635 586.6L639.6 575.4Z" fill="#9696d2"/>
<path d="M666.1 564.2L697.2 564.2L701.8 575.4L697.2 586.6L666.1 586.6L670.7 575.4Z" fill="#f08282"/>
<path d="M697.2 564.2L728.3 564.2L732.9 575.4L728.3 586.6L697.2 586.6L701.8 575.4Z" fill="#f08282"/>
<path d="M728.3 564.2L759.4 564.2L764 575.4L759.4 586.6L728.3 586.6L732.9 575.4Z" fill="#82be82"/>
<path d="M759.4 564.2L790.5 564.2L795.1 575.4L790.5 586.6L759.4 586.6L764 575.4Z" fill="#9696d2"/>
<path d="M790.5 564.2L821.6 564.2L826.2 575.4L821.6 586.6L790.5 586.6L795.1 575.4Z" fill="#82e6e6"/>
<path d="M821.6 564.2L852.7 564.2L857.3 575.4L852.7 586.6L821.6 586.6L826.2 575.4Z" fill="#bebebe"/>
<path d="M852.7 564.2L883.8 564.2L888.4 575.4L883.8 586.6L852.7 586.6L857.3 575.4Z" fill="#fac382"/>
<path d="M883.8 564.2L914.9 564.2L919.5 575.4L914.9 586.6L883.8 586.6L888.4 575.4Z" fill="#82a5f5"/>
<path d="M914.9 564.2L946 564.2L950.6 575.4L946 586.6L914.9 586.6L919.5 575.4Z" fill="#9696d2"/>
<path d="M946 564.2L977.1 564.2L981.7 575.4L977.1 586.6L946 586.6L950.6 575.4Z" fill="#bebebe"/>
<path d="M977.1 564.2L1008.2 564.2L1012.8 575.4L1008.2 586.6L977.1 586.6L981.7 575.4Z" fill="#fac382"/>
<path d="M1008.2 564.2L1039.3 564.2L1043.9 575.4L1039.3 586.6L1008.2 586.6L1012.8 575.4Z" fill="#82be82"/>
<path d="M1039.3 564.2L1070.4 564.2L1075 575.4L1070.4 586.6L1039.3 586.6L1043.9 575.4Z" fill="#9696d2"/>
<path d="M1070.4 564.2L1101.5 564.2L1106.1 575.4L1101.5 586.6L1070.4 586.6L1075 575.4Z" fill="#bebebe"/>
<path d="M1101.5 564.2L1132.6 564.2L1137.2 575.4L1132.6 586.6L1101.5 586.6L1106.1 575.4Z" fill="#d7a5d7"/>
<path d="M1132.6 564.2L1163.7 564.2L1168.3 575.4L1163.7 586.6L1132.6 586.6L1137.2 575.4Z" fill="#82e6e6"/>
<path d="M1163.7 564.2L1194.8 564.2L1199.4 575.4L1194.8 586.6L1163.7 586.6L1168.3 575.4Z" fill="#82a5f5"/>
<path d="M1194.8 564.2L1225.9 564.2L1230.5 575.4L1225.9 586.6L1194.8 586.6L1199.4 575.4Z" fill="#82a5f5"/>
<path d="M1225.9 564.2L1257 564.2L1261.6 575.4L1257 586.6L1225.9 586.6L1230.5 575.4Z" fill="#82a5f5"/>
<path d="M1257 564.2L1288.1 564.2L1292.7 575.4L1288.1 586.6L1257 586.6L1261.6 575.4Z" fill="#82be82"/>
<path d="M1288.1 564.2L1319.2 564.2L1323.8 575.4L1319.2 586.6L1288.1 586.6L1292.7 575.4Z" fill="#fac382"/>
<path d="M1319.2 564.2L1350.3 564.2L1354.9 575.4L1350.3 586.6L1319.2 586.6L1323.8 575.4Z" fill="#82e6e6"/>
<path d="M1350.3 564.2L1381.4 564.2L1386 575.4L1381.4 586.6L1350.3 586.6L1354.9 575.4Z" fill="#f0f082"/>
<path d="M1381.4 564.2L1412.5 564.2L1417.1 575.4L1412.5 586.6L1381.4 586.6L1386 575.4Z" fill="#82be82"/>
<path d="M1412.5 564.2L1443.6 564.2L1448.2 575.4L1443.6 586.6L1412.5 586.6L1417.1 575.4Z" fill="#bebebe"/>
<path d="M1443.6 564.2L1474.7 564.2L1479.3 575.4L1474.7 586.6L1443.6 586.6L1448.2 575.4Z" fill="#f08282"/>
<path d="M1474.7 564.2L1505.8 564.2L1510.4 575.4L1505.8 586.6L1474.7 586.6L1479.3 575.4Z" fill="#9696d2"/>
<path d="M1505.8 564.2L1536.9 564.2L1541.5 575.4L1536.9 586.6L1505.8 586.6L1510.4 575.4Z" fill="#fac382"/>
<path d="M1536.9 564.2L1568 564.2L1572.6 575.4L1568 586.6L1536.9 586.6L1541.5 575.4Z" fill="#82be82"/>
<path d="M1568 564.2L1599.1 564.2L1603.7 575.4L1599.1 586.6L1568 586.6L1572.6 575.4Z" fill="#82be82"/>
<path d="M1599.1 564.2L1630.2 564.2L1634.8 575.4L1630.2 586.6L1599.1 586.6L1603.7 575.4Z" fill="#9696d2"/>
<path d="M1630.2 564.2L1661.3 564.2L1665.9 575.4L1661.3 586.6L1630.2 586.6L1634.8 575.4Z" fill="#82e6e6"/>
<path d="M1661.3 564.2L1692.4 564.2L1697 575.4L1692.4 586.6L1661.3 586.6L1665.9 575.4Z" fill="#82be82"/>
<path d="M1692.4 564.2L1723.5 564.2L1728.1 575.4L1723.5 586.6L1692.4 586.6L1697 575.4Z" fill="#bebebe"/>
<path d="M1723.5 564.2L1754.6 564.2L1759.2 575.4L1754.6 586.6L1723.5 586.6L1728.1 575.4Z" fill="#ebc3b9"/>
<path d="M1754.6 564.2L1785.7 564.2L1790.3 575.4L1785.7 586.6L1754.6 586.6L1759.2 575.4Z" fill="#9696d2"/>
<path d="M1785.7 564.2L1816.8 564.2L1821.4 575.4L1816.8 586.6L1785.7 586.6L1790.3 575.4Z" fill="#9696d2"/>
<path d="M1816.8 564.2L1847.9 564.2L1852.5 575.4L1847.9 586.6L1816.8 586.6L1821.4 575.4Z" fill="#fac382"/>
<path d="M1847.9 564.2L1879 564.2L1883.6 575.4L1879 586.6L1847.9 586.6L1852.5 575.4Z" fill="#9696d2"/>
<path d="M1879 564.2L1910.1 564.2L1914.7 575.4L1910.1 586.6L1879 586.6L1883.6 575.4Z" fill="#82a5f5"/>
<path d="M1910.1 564.2L1941.2 564.2L1945.8 575.4L1941.2 586.6L1910.1 586.6L1914.7 575.4Z" fill="#f0f082"/>
<path d="M1941.2 564.2L1972.3 564.2L1976.9 575.4L1972.3 586.6L1941.2 586.6L1945.8 575.4Z" fill="#9696d2"/>
<path d="M1972.3 564.2L2003.4 564.2L2008 575.4L2003.4 586.6L1972.3 586.6L1976.9 575.4Z" fill="#dcdcdc"/>
<path d="M2003.4 564.2L2034.5 564.2L2039.1 575.4L2034.5 586.6L2003.4 586.6L2008 575.4Z" fill="#82be82"/>
<path d="M2034.5 564.2L2065.6 564.2L2070.2 575.4L2065.6 586.6L2034.5 586.6L2039.1 575.4Z" fill="#fac382"/>
<path d="M2065.6 564.2L2096.7 564.2L2101.3 575.4L2096.7 586.6L2065.6 586.6L2070.2 575.4Z" fill="#ebc3b9"/>
<path d="M2096.7 564.2L2127.8 564.2L2132.4 575.4L2127.8 586.6L2096.7 586.6L2101.3 575.4Z" fill="#fac382"/>
<path d="M2127.8 564.2L2158.9 564.2L2163.5 575.4L2158.9 586.6L2127.8 586.6L2132.4 575.4Z" fill="#82a5f5"/>
<g class="dd" font-size="16.5" text-anchor="middle" fill="#111" font-weight="normal"><text x="432.55" y="580.6">N</text><text x="463.65" y="580.6">I</text><text x="494.75" y="580.6">T</text><text x="525.85" y="580.6">N</text><text x="556.95" y="580.6">L</text><text x="588.05" y="580.6">C</text><text x="619.15" y="580.6">P</text><text x="650.25" y="580.6">F</text><text x="681.35" y="580.6">D</text><text x="712.45" y="580.6">E</text><text x="743.55" y="580.6">V</text><text x="774.65" y="580.6">F</text><text x="805.75" y="580.6">N</text><text x="836.85" y="580.6">A</text><text x="867.95" y="580.6">T</text><text x="899.05" y="580.6">R</text><text x="930.15" y="580.6">F</text><text x="961.25" y="580.6">A</text><text x="992.35" y="580.6">S</text><text x="1023.45" y="580.6">V</text><text x="1054.55" y="580.6">Y</text><text x="1085.65" y="580.6">A</text><text x="1116.75" y="580.6">W</text><text x="1147.85" y="580.6">N</text><text x="1178.95" y="580.6">R</text><text x="1210.05" y="580.6">K</text><text x="1241.15" y="580.6">R</text><text x="1272.25" y="580.6">I</text><text x="1303.35" y="580.6">S</text><text x="1334.45" y="580.6">N</text><text x="1365.55" y="580.6">C</text><text x="1396.65" y="580.6">V</text><text x="1427.75" y="580.6">A</text><text x="1458.85" y="580.6">D</text><text x="1489.95" y="580.6">Y</text><text x="1521.05" y="580.6">S</text><text x="1552.15" y="580.6">V</text><text x="1583.25" y="580.6">L</text><text x="1614.35" y="580.6">Y</text><text x="1645.45" y="580.6">N</text><text x="1676.55" y="580.6">L</text><text x="1707.65" y="580.6">A</text><text x="1738.75" y="580.6">P</text><text x="1769.85" y="580.6">F</text><text x="1800.95" y="580.6">F</text><text x="1832.05" y="580.6">T</text><text x="1863.15" y="580.6">F</text><text x="1894.25" y="580.6">K</text><text x="1925.35" y="580.6">C</text><text x="1956.45" y="580.6">Y</text><text x="1987.55" y="580.6">G</text><text x="2018.65" y="580.6">V</text><text x="2049.75" y="580.6">S</text><text x="2080.85" y="580.6">P</text><text x="2111.95" y="580.6">T</text><text x="2143.05" y="580.6">K</text></g>
<line x1="417.3" y1="587" x2="479" y2="587" stroke="#7b9fd6" stroke-width="1"/>
<line x1="1381.7" y1="587" x2="1443" y2="587" stroke="#7b9fd6" stroke-width="1"/>
<linearGradient id="gGreyB" x1="0" y1="0" x2="0" y2="1"><stop offset="0" stop-color="#8c8c8c"/><stop offset="0.08" stop-color="#9a9a9a"/><stop offset="0.45" stop-color="#ffffff"/><stop offset="0.85" stop-color="#9c9c9c"/><stop offset="1" stop-color="#949494"/></linearGradient>
<rect x="417.7" y="595.5" width="1750" height="37.5" fill="url(#gGreyB)"/>
<text x="1237" y="625.2" font-size="25" fill="#111" textLength="109" lengthAdjust="spacingAndGlyphs">BA.1 RBD</text>
<text x="293.3" y="678" font-size="26.5" fill="#111" textLength="117.5" lengthAdjust="spacingAndGlyphs">(2) BsmBI</text>
<text x="887.3" y="678.5" font-size="26.5" fill="#111" textLength="77" lengthAdjust="spacingAndGlyphs">BsmBI</text>
<text x="48" y="714.4" font-size="27" fill="#111" textLength="24" lengthAdjust="spacingAndGlyphs">#1</text>
<text x="44" y="749.4" font-size="27" fill="#111" textLength="28" lengthAdjust="spacingAndGlyphs">#2</text>
<text x="15.7" y="841" font-size="25" fill="#111" textLength="56" lengthAdjust="spacingAndGlyphs">#136</text>
<text x="18.3" y="877.7" font-size="25" fill="#111" textLength="54" lengthAdjust="spacingAndGlyphs">#137</text>
<text x="419.3" y="786.5" font-size="26.5" fill="#111" textLength="26.7" lengthAdjust="spacingAndGlyphs">(1)</text>
<rect x="53.3" y="767.7" width="9" height="8.4" fill="#000"/>
<rect x="53.3" y="784.3" width="9" height="8.4" fill="#000"/>
<rect x="53.3" y="802.3" width="9" height="8.4" fill="#000"/>
<rect x="659.8" y="766" width="9" height="8.4" fill="#000"/>
<rect x="659.8" y="783.3" width="9" height="8.4" fill="#000"/>
<rect x="659.8" y="801.2" width="9" height="8.4" fill="#000"/>
<rect x="89.3" y="691.7" width="214" height="21" fill="#fde5d9"/>
<rect x="1049.3" y="691.7" width="219.4" height="21" fill="#fde5d9"/>
<text x="90" y="709" font-size="17.3" fill="#111" textLength="213.3" lengthAdjust="spacingAndGlyphs" stroke="#111" stroke-width="0.45">TGATGATAGCTATCGGCACA</text>
<text x="303.3" y="709" font-size="17.3" fill="#111" textLength="746.5" lengthAdjust="spacingAndGlyphs" stroke="#111" stroke-width="0.45">CGTCTCGCTCCAATATCACGAACCTTTGTCCTTTCGATGAGGTCTTCAATGCTACTAGATTCGCAGAGACG</text>
<text x="1049.8" y="709" font-size="17.3" fill="#111" textLength="218.2" lengthAdjust="spacingAndGlyphs" stroke="#111" stroke-width="0.45">GAACTGAGTCGGCGCCGATG</text>
<rect x="88.3" y="727.7" width="214.4" height="21.6" fill="#fde5d9"/>
<rect x="1047.3" y="727.7" width="219.4" height="21.6" fill="#fde5d9"/>
<text x="88.7" y="745" font-size="17.3" fill="#111" textLength="213.8" lengthAdjust="spacingAndGlyphs" stroke="#111" stroke-width="0.45">TGATGATAGCTATCGGCACA</text>
<text x="302.5" y="745" font-size="17.3" fill="#111" textLength="114.2" lengthAdjust="spacingAndGlyphs" stroke="#111" stroke-width="0.45">CGTCTCGCTCC</text>
<text x="416.7" y="745" font-size="17.3" fill="#f01414" textLength="32.1" lengthAdjust="spacingAndGlyphs" stroke="#f01414" stroke-width="0.45">NNK</text>
<text x="448.8" y="745" font-size="17.3" fill="#111" textLength="599" lengthAdjust="spacingAndGlyphs" stroke="#111" stroke-width="0.45">ATCACGAACCTTTGTCCTTTCGATGAGGTCTTCAATGCTACTAGATTCGCAGAGACG</text>
<text x="1047.8" y="745" font-size="17.3" fill="#111" textLength="218.2" lengthAdjust="spacingAndGlyphs" stroke="#111" stroke-width="0.45">GAACTGAGTCGGCGCCGATG</text>
<rect x="89.3" y="822.3" width="214" height="21" fill="#fde5d9"/>
<rect x="1047.3" y="822.3" width="219.4" height="21" fill="#fde5d9"/>
<text x="90" y="839" font-size="17.3" fill="#111" textLength="213.3" lengthAdjust="spacingAndGlyphs" stroke="#111" stroke-width="0.45">TGATGATAGCTATCGGCACA</text>
<text x="303.3" y="839" font-size="17.3" fill="#111" textLength="517.4" lengthAdjust="spacingAndGlyphs" stroke="#111" stroke-width="0.45">CGTCTCGCTCCAATATCACGAACCTTTGTCCTTTCGATGAGGTCTTCAAT</text>
<text x="820.7" y="839" font-size="17.3" fill="#f01414" textLength="33.1" lengthAdjust="spacingAndGlyphs" stroke="#f01414" stroke-width="0.45">NNK</text>
<text x="853.8" y="839" font-size="17.3" fill="#111" textLength="31.2" lengthAdjust="spacingAndGlyphs" stroke="#111" stroke-width="0.45">ACT</text>
<text x="885" y="839" font-size="17.3" fill="#f01414" textLength="32.8" lengthAdjust="spacingAndGlyphs" stroke="#f01414" stroke-width="0.45">NNK</text>
<text x="917.8" y="839" font-size="17.3" fill="#111" textLength="130" lengthAdjust="spacingAndGlyphs" stroke="#111" stroke-width="0.45">TTCGCAGAGACG</text>
<text x="1047.8" y="839" font-size="17.3" fill="#111" textLength="218.2" lengthAdjust="spacingAndGlyphs" stroke="#111" stroke-width="0.45">GAACTGAGTCGGCGCCGATG</text>
<rect x="87.3" y="859" width="214.4" height="21" fill="#fde5d9"/>
<rect x="1046" y="859" width="219.3" height="21" fill="#fde5d9"/>
<text x="88" y="875.7" font-size="17.3" fill="#111" textLength="213.7" lengthAdjust="spacingAndGlyphs" stroke="#111" stroke-width="0.45">TGATGATAGCTATCGGCACA</text>
<text x="301.7" y="875.7" font-size="17.3" fill="#111" textLength="548.3" lengthAdjust="spacingAndGlyphs" stroke="#111" stroke-width="0.45">CGTCTCGCTCCAATATCACGAACCTTTGTCCTTTCGATGAGGTCTTCAATGCT</text>
<text x="850" y="875.7" font-size="17.3" fill="#f01414" textLength="67.2" lengthAdjust="spacingAndGlyphs" stroke="#f01414" stroke-width="0.45">NNKNNK</text>
<text x="917.2" y="875.7" font-size="17.3" fill="#111" textLength="129.3" lengthAdjust="spacingAndGlyphs" stroke="#111" stroke-width="0.45">TTCGCAGAGACG</text>
<text x="1046.5" y="875.7" font-size="17.3" fill="#111" textLength="218.5" lengthAdjust="spacingAndGlyphs" stroke="#111" stroke-width="0.45">GAACTGAGTCGGCGCCGATG</text>
<rect x="86.7" y="885" width="215.6" height="21.7" fill="#fde5d9"/>
<text x="87.3" y="901.7" font-size="17.3" fill="#111" textLength="215" lengthAdjust="spacingAndGlyphs" stroke="#111" stroke-width="0.45">ACTACTATCGATAGCCGTGT</text>
<text x="302.3" y="901.7" font-size="17.3" fill="#111" textLength="546" lengthAdjust="spacingAndGlyphs" stroke="#111" stroke-width="0.45">GCAGAGCGAGGTTATAGTGCTTGGAAACAGGAAAGCTACTCCAGAAGTTACGA</text>
<text x="848.3" y="901.7" font-size="17.3" fill="#1a1af5" textLength="70.5" lengthAdjust="spacingAndGlyphs" stroke="#1a1af5" stroke-width="0.45">NNMNNM</text>
<text x="918.8" y="901.7" font-size="17.3" fill="#111" textLength="119.8" lengthAdjust="spacingAndGlyphs" stroke="#111" stroke-width="0.45">AAGCGTCTCTGC</text>
<path d="M375.3 860V884.3H421V906.7" fill="none" stroke="#222" stroke-width="1.3"/>
<path d="M927.3 860V883.5H973.3V906.7" fill="none" stroke="#222" stroke-width="1.3"/>
<path d="M1266.7 896H1050.5L1069.5 915.5" fill="none" stroke="#000" stroke-width="3.8" stroke-linejoin="miter"/>
<text x="838.3" y="959.3" font-size="26.5" fill="#111" textLength="79.5" lengthAdjust="spacingAndGlyphs">Ligase</text>
<line x1="790" y1="1002.7" x2="931" y2="1002.7" stroke="#000" stroke-width="2.4"/>
<line x1="790" y1="1032.7" x2="931" y2="1032.7" stroke="#000" stroke-width="2.4"/>
<line x1="983" y1="1002.7" x2="1125" y2="1002.7" stroke="#000" stroke-width="2.4"/>
<line x1="983" y1="1032.7" x2="1125" y2="1032.7" stroke="#000" stroke-width="2.4"/>
<path d="M796.5 1002.7V1015.5M796.5 1020.5V1032.7M805.47 1002.7V1015.5M805.47 1020.5V1032.7M814.44 1002.7V1015.5M814.44 1020.5V1032.7M823.41 1002.7V1015.5M823.41 1020.5V1032.7M832.38 1002.7V1015.5M832.38 1020.5V1032.7M841.35 1002.7V1015.5M841.35 1020.5V1032.7M850.32 1002.7V1015.5M850.32 1020.5V1032.7M859.29 1002.7V1015.5M859.29 1020.5V1032.7M868.26 1002.7V1015.5M868.26 1020.5V1032.7M877.23 1002.7V1015.5M877.23 1020.5V1032.7M886.2 1002.7V1015.5M886.2 1020.5V1032.7M895.17 1002.7V1015.5M895.17 1020.5V1032.7M904.14 1002.7V1015.5M904.14 1020.5V1032.7M913.11 1002.7V1015.5M913.11 1020.5V1032.7M922.08 1002.7V1015.5M922.08 1020.5V1032.7M993.84 1002.7V1015.5M993.84 1020.5V1032.7M1002.81 1002.7V1015.5M1002.81 1020.5V1032.7M1011.78 1002.7V1015.5M1011.78 1020.5V1032.7M1020.75 1002.7V1015.5M1020.75 1020.5V1032.7M1029.72 1002.7V1015.5M1029.72 1020.5V1032.7M1038.69 1002.7V1015.5M1038.69 1020.5V1032.7M1047.66 1002.7V1015.5M1047.66 1020.5V1032.7M1056.63 1002.7V1015.5M1056.63 1020.5V1032.7M1065.6 1002.7V1015.5M1065.6 1020.5V1032.7M1074.57 1002.7V1015.5M1074.57 1020.5V1032.7M1083.54 1002.7V1015.5M1083.54 1020.5V1032.7M1092.51 1002.7V1015.5M1092.51 1020.5V1032.7M1101.48 1002.7V1015.5M1101.48 1020.5V1032.7M1110.45 1002.7V1015.5M1110.45 1020.5V1032.7M1119.42 1002.7V1015.5M1119.42 1020.5V1032.7" stroke="#000" stroke-width="2" fill="none"/>
<path d="M915.3 1004 C915 981 934 970 956 970 C979 970 997 982 996.7 1002 A7.3 7.3 0 0 1 982.2 1002.5 C982 995 972 989.5 957 989.5 C941 989.5 930.5 996 930 1004.5 A7.4 7.4 0 0 1 915.3 1004Z" fill="#4472c4"/>
<path d="M916.8 1030 C916 1052 935 1064 958 1064 C981 1064 999 1052 998.3 1030 A7.3 7.3 0 0 0 983.8 1029.5 C983.5 1039 973 1046.5 958 1046.5 C943 1046.5 932 1040 931.5 1030 A7.4 7.4 0 0 0 916.8 1030Z" fill="#4472c4"/>
<line x1="931" y1="1002.7" x2="942" y2="1002.7" stroke="#000" stroke-width="2.2"/>
<line x1="974" y1="1002.7" x2="980" y2="1002.7" stroke="#000" stroke-width="2.2"/>
<line x1="931" y1="1032.7" x2="940" y2="1032.7" stroke="#000" stroke-width="2.2"/>
<polygon points="943.7,1004 941.55,1005.34 942.91,1007.47 940.39,1007.74 940.69,1010.25 938.3,1009.41 937.48,1011.8 935.7,1010 933.92,1011.8 933.1,1009.41 930.71,1010.25 931.01,1007.74 928.49,1007.47 929.85,1005.34 927.7,1004 929.85,1002.66 928.49,1000.53 931.01,1000.26 930.71,997.75 933.1,998.59 933.92,996.2 935.7,998 937.48,996.2 938.3,998.59 940.69,997.75 940.39,1000.26 942.91,1000.53 941.55,1002.66" fill="#ffff46"/>
<polygon points="990.7,1032.7 988.55,1034.04 989.91,1036.17 987.39,1036.44 987.69,1038.95 985.3,1038.11 984.48,1040.5 982.7,1038.7 980.92,1040.5 980.1,1038.11 977.71,1038.95 978.01,1036.44 975.49,1036.17 976.85,1034.04 974.7,1032.7 976.85,1031.36 975.49,1029.23 978.01,1028.96 977.71,1026.45 980.1,1027.29 980.92,1024.9 982.7,1026.7 984.48,1024.9 985.3,1027.29 987.69,1026.45 987.39,1028.96 989.91,1029.23 988.55,1031.36" fill="#e6e646"/>
<text x="941.7" y="1009.3" font-size="13.5" fill="#111" font-weight="bold" class="c" textLength="33.5" lengthAdjust="spacingAndGlyphs">TCGC</text>
<text x="940.7" y="1037.7" font-size="13.5" fill="#111" font-weight="bold" class="c" textLength="36" lengthAdjust="spacingAndGlyphs">AGCG</text>
<text x="1144" y="1028.3" font-size="26.5" fill="#111" textLength="32" lengthAdjust="spacingAndGlyphs">(4)</text>
<text x="890" y="1110" font-size="26.5" fill="#111" textLength="77" lengthAdjust="spacingAndGlyphs">BsmBI</text>
<text x="1459.3" y="1110" font-size="26.5" fill="#111" textLength="77.3" lengthAdjust="spacingAndGlyphs">BsmBI</text>
<text x="598.5" y="1140.4" font-size="27" fill="#111" textLength="23" lengthAdjust="spacingAndGlyphs">#1</text>
<text x="593" y="1219" font-size="27" fill="#111" textLength="28.3" lengthAdjust="spacingAndGlyphs">#2</text>
<text x="564" y="1317" font-size="26.2" fill="#111" textLength="57.3" lengthAdjust="spacingAndGlyphs">#136</text>
<text x="567.3" y="1350.2" font-size="26.2" fill="#111" textLength="55" lengthAdjust="spacingAndGlyphs">#137</text>
<rect x="599.5" y="1236.7" width="9" height="8.4" fill="#000"/>
<rect x="599.5" y="1254.2" width="9" height="8.4" fill="#000"/>
<rect x="599.5" y="1272" width="9" height="8.4" fill="#000"/>
<rect x="1215" y="1239.3" width="9" height="8.4" fill="#000"/>
<rect x="1215" y="1256.7" width="9" height="8.4" fill="#000"/>
<rect x="1215" y="1274.6" width="9" height="8.4" fill="#000"/>
<rect x="644.3" y="1119" width="215" height="21.7" fill="#fde5d9"/>
<rect x="1631" y="1119" width="212.3" height="21.7" fill="#fde5d9"/>
<text x="645" y="1136.7" font-size="16.9" fill="#111" textLength="214.3" lengthAdjust="spacingAndGlyphs" stroke="#111" stroke-width="0.45">GATAGCGGACTTTCGGTCAA</text>
<text x="859.3" y="1136.7" font-size="16.9" fill="#111" textLength="772.2" lengthAdjust="spacingAndGlyphs" stroke="#111" stroke-width="0.45">CGTCTCTTCGCATCCGTGTATGCATGGAATAGAAAGAGAATTAGTAATTGTGTAGCGGACTACAGTGAGACG</text>
<text x="1631.5" y="1136.7" font-size="16.9" fill="#111" textLength="211.5" lengthAdjust="spacingAndGlyphs" stroke="#111" stroke-width="0.45">TCTGAATGTACAAGCAACCC</text>
<rect x="644.3" y="1146" width="215.4" height="21.3" fill="#fde5d9"/>
<text x="645" y="1162.7" font-size="16.9" fill="#111" textLength="214.7" lengthAdjust="spacingAndGlyphs" stroke="#111" stroke-width="0.45">CTATCGCCTGAAAGCCAGTT</text>
<text x="859.7" y="1162.7" font-size="16.9" fill="#111" textLength="763.9" lengthAdjust="spacingAndGlyphs" stroke="#111" stroke-width="0.45">GCAGAGAAGCGTAGGCACATACGTACCTTATCTTTCTCTTAATCATTAACACATCGCCTGATGTCACTCTGC</text>
<rect x="642" y="1196.7" width="214.7" height="21.6" fill="#fde5d9"/>
<rect x="1630" y="1196.7" width="212.3" height="21.6" fill="#fde5d9"/>
<text x="642.7" y="1214.3" font-size="16.9" fill="#111" textLength="214" lengthAdjust="spacingAndGlyphs" stroke="#111" stroke-width="0.45">GATAGCGGACTTTCGGTCAA</text>
<text x="856.7" y="1214.3" font-size="16.9" fill="#111" textLength="154" lengthAdjust="spacingAndGlyphs" stroke="#111" stroke-width="0.45">CGTCTCTTCGCATCC</text>
<text x="1010.7" y="1214.3" font-size="16.9" fill="#f01414" textLength="34.1" lengthAdjust="spacingAndGlyphs" stroke="#f01414" stroke-width="0.45">NNK</text>
<text x="1044.8" y="1214.3" font-size="16.9" fill="#111" textLength="585.7" lengthAdjust="spacingAndGlyphs" stroke="#111" stroke-width="0.45">TATGCATGGAATAGAAAGAGAATTAGTAATTGTGTAGCGGACTACAGTGAGACG</text>
<text x="1630.5" y="1214.3" font-size="16.9" fill="#111" textLength="211.5" lengthAdjust="spacingAndGlyphs" stroke="#111" stroke-width="0.45">TCTGAATGTACAAGCAACCC</text>
<rect x="644.3" y="1296.7" width="215" height="21.6" fill="#fde5d9"/>
<rect x="1634" y="1296.7" width="212.7" height="21.6" fill="#fde5d9"/>
<text x="645" y="1314.3" font-size="16.9" fill="#111" textLength="214.3" lengthAdjust="spacingAndGlyphs" stroke="#111" stroke-width="0.45">GATAGCGGACTTTCGGTCAA</text>
<text x="859.3" y="1314.3" font-size="16.9" fill="#111" textLength="541.4" lengthAdjust="spacingAndGlyphs" stroke="#111" stroke-width="0.45">CGTCTCTTCGCATCCGTGTATGCATGGAATAGAAAGAGAATTAGTAATTGT</text>
<text x="1400.7" y="1314.3" font-size="16.9" fill="#f01414" textLength="33.1" lengthAdjust="spacingAndGlyphs" stroke="#f01414" stroke-width="0.45">NNK</text>
<text x="1433.8" y="1314.3" font-size="16.9" fill="#111" textLength="35.5" lengthAdjust="spacingAndGlyphs" stroke="#111" stroke-width="0.45">GCG</text>
<text x="1469.3" y="1314.3" font-size="16.9" fill="#f01414" textLength="33.9" lengthAdjust="spacingAndGlyphs" stroke="#f01414" stroke-width="0.45">NNK</text>
<text x="1503.2" y="1314.3" font-size="16.9" fill="#111" textLength="131.3" lengthAdjust="spacingAndGlyphs" stroke="#111" stroke-width="0.45">TACAGTGAGACG</text>
<text x="1634.5" y="1314.3" font-size="16.9" fill="#111" textLength="211.5" lengthAdjust="spacingAndGlyphs" stroke="#111" stroke-width="0.45">TCTGAATGTACAAGCAACCC</text>
<rect x="645" y="1330" width="215" height="21.7" fill="#fde5d9"/>
<rect x="1633.3" y="1330" width="212.7" height="21.7" fill="#fde5d9"/>
<text x="645.7" y="1347.7" font-size="16.9" fill="#111" textLength="214.3" lengthAdjust="spacingAndGlyphs" stroke="#111" stroke-width="0.45">GATAGCGGACTTTCGGTCAA</text>
<text x="860" y="1347.7" font-size="16.9" fill="#111" textLength="574.3" lengthAdjust="spacingAndGlyphs" stroke="#111" stroke-width="0.45">CGTCTCTTCGCATCCGTGTATGCATGGAATAGAAAGAGAATTAGTAATTGTGTA</text>
<text x="1434.3" y="1347.7" font-size="16.9" fill="#f01414" textLength="67.9" lengthAdjust="spacingAndGlyphs" stroke="#f01414" stroke-width="0.45">NNKNNK</text>
<text x="1502.2" y="1347.7" font-size="16.9" fill="#111" textLength="131.6" lengthAdjust="spacingAndGlyphs" stroke="#111" stroke-width="0.45">TACAGTGAGACG</text>
<text x="1633.8" y="1347.7" font-size="16.9" fill="#111" textLength="211.7" lengthAdjust="spacingAndGlyphs" stroke="#111" stroke-width="0.45">TCTGAATGTACAAGCAACCC</text>
<path d="M931 1120V1144.7H979V1166.7" fill="none" stroke="#222" stroke-width="1.3"/>
<path d="M1501 1120V1144.3H1541.7V1167.3" fill="none" stroke="#222" stroke-width="1.3"/>
<path d="M1845 1158.7H1634.5L1652.7 1177.5" fill="none" stroke="#000" stroke-width="3.8" stroke-linejoin="miter"/>
<text x="0" y="1427.9" font-size="38.5" font-weight="bold" fill="#000" stroke="#000" stroke-width="1.5" stroke-linejoin="round" textLength="24.9" lengthAdjust="spacingAndGlyphs">d</text>
<text x="330" y="1427.6" font-size="24.2" fill="#111" textLength="163.5" lengthAdjust="spacingAndGlyphs">Seq-library A</text>
<text x="560" y="1427.6" font-size="24.2" fill="#111" textLength="163" lengthAdjust="spacingAndGlyphs">Seq-library B</text>
<clipPath id="cpd"><rect x="121.5" y="1444" width="848.5" height="439.3"/></clipPath>
<g clip-path="url(#cpd)" fill="#dc7631" stroke="#d25c00" stroke-width="0.7"><rect x="122.25" y="1712" width="1.5" height="152"/><rect x="126.47" y="1678" width="1.5" height="186"/><rect x="130.69" y="1645.2" width="1.5" height="218.8"/><rect x="134.9" y="1572" width="1.5" height="292"/><rect x="139.12" y="1619.6" width="1.5" height="244.4"/><rect x="143.34" y="1621.6" width="1.5" height="242.4"/><rect x="147.56" y="1590.4" width="1.5" height="273.6"/><rect x="151.77" y="1637.2" width="1.5" height="226.8"/><rect x="155.99" y="1656.8" width="1.5" height="207.2"/><rect x="160.21" y="1655.2" width="1.5" height="208.8"/><rect x="164.43" y="1665.6" width="1.5" height="198.4"/><rect x="168.64" y="1668.4" width="1.5" height="195.6"/><rect x="172.86" y="1657.2" width="1.5" height="206.8"/><rect x="177.08" y="1657.6" width="1.5" height="206.4"/><rect x="181.3" y="1657.2" width="1.5" height="206.8"/><rect x="185.51" y="1699.6" width="1.5" height="164.4"/><rect x="189.73" y="1805.6" width="1.5" height="58.4"/><rect x="193.95" y="1783.6" width="1.5" height="80.4"/><rect x="198.17" y="1743.2" width="1.5" height="120.8"/><rect x="202.38" y="1676" width="1.5" height="188"/><rect x="206.6" y="1641.6" width="1.5" height="222.4"/><rect x="210.82" y="1626.8" width="1.5" height="237.2"/><rect x="215.04" y="1661.6" width="1.5" height="202.4"/><rect x="219.25" y="1665.6" width="1.5" height="198.4"/><rect x="223.47" y="1649.2" width="1.5" height="214.8"/><rect x="227.69" y="1640.4" width="1.5" height="223.6"/><rect x="231.91" y="1677.6" width="1.5" height="186.4"/><rect x="236.12" y="1662.8" width="1.5" height="201.2"/><rect x="240.34" y="1690.8" width="1.5" height="173.2"/><rect x="244.56" y="1626.8" width="1.5" height="237.2"/><rect x="248.78" y="1668.8" width="1.5" height="195.2"/><rect x="252.99" y="1634.4" width="1.5" height="229.6"/><rect x="257.21" y="1608" width="1.5" height="256"/><rect x="261.43" y="1620" width="1.5" height="244"/><rect x="265.64" y="1766.8" width="1.5" height="97.2"/><rect x="269.86" y="1773.2" width="1.5" height="90.8"/><rect x="274.08" y="1742.4" width="1.5" height="121.6"/><rect x="278.3" y="1676.4" width="1.5" height="187.6"/><rect x="282.51" y="1661.2" width="1.5" height="202.8"/><rect x="286.73" y="1572.8" width="1.5" height="291.2"/><rect x="290.95" y="1633.2" width="1.5" height="230.8"/><rect x="295.17" y="1519.2" width="1.5" height="344.8"/><rect x="299.38" y="1540.4" width="1.5" height="323.6"/><rect x="303.6" y="1660" width="1.5" height="204"/><rect x="307.82" y="1632.8" width="1.5" height="231.2"/><rect x="312.04" y="1596" width="1.5" height="268"/><rect x="316.25" y="1617.2" width="1.5" height="246.8"/><rect x="320.47" y="1557.6" width="1.5" height="306.4"/><rect x="324.69" y="1594" width="1.5" height="270"/><rect x="328.91" y="1592.4" width="1.5" height="271.6"/><rect x="333.12" y="1563.2" width="1.5" height="300.8"/><rect x="337.34" y="1618.8" width="1.5" height="245.2"/><rect x="341.56" y="1792.4" width="1.5" height="71.6"/><rect x="345.78" y="1766.4" width="1.5" height="97.6"/><rect x="350" y="1672.8" width="1.5" height="191.2"/><rect x="354.21" y="1594.4" width="1.5" height="269.6"/><rect x="358.43" y="1639.2" width="1.5" height="224.8"/><rect x="362.65" y="1568.8" width="1.5" height="295.2"/><rect x="366.87" y="1592.8" width="1.5" height="271.2"/><rect x="371.08" y="1647.6" width="1.5" height="216.4"/><rect x="375.3" y="1687.2" width="1.5" height="176.8"/><rect x="379.52" y="1699.2" width="1.5" height="164.8"/><rect x="383.74" y="1623.2" width="1.5" height="240.8"/><rect x="387.95" y="1573.2" width="1.5" height="290.8"/><rect x="392.17" y="1616.4" width="1.5" height="247.6"/><rect x="396.39" y="1594.4" width="1.5" height="269.6"/><rect x="400.61" y="1526.4" width="1.5" height="337.6"/><rect x="404.82" y="1464" width="1.5" height="400"/><rect x="409.04" y="1596.4" width="1.5" height="267.6"/><rect x="413.26" y="1723.2" width="1.5" height="140.8"/><rect x="417.48" y="1816.8" width="1.5" height="47.2"/><rect x="421.69" y="1820" width="1.5" height="44"/><rect x="425.91" y="1781.2" width="1.5" height="82.8"/><rect x="430.13" y="1668.4" width="1.5" height="195.6"/><rect x="434.35" y="1635.2" width="1.5" height="228.8"/><rect x="438.56" y="1622.4" width="1.5" height="241.6"/><rect x="442.78" y="1607.6" width="1.5" height="256.4"/><rect x="447" y="1629.6" width="1.5" height="234.4"/><rect x="451.22" y="1665.2" width="1.5" height="198.8"/><rect x="455.43" y="1631.6" width="1.5" height="232.4"/><rect x="459.65" y="1682" width="1.5" height="182"/><rect x="463.87" y="1595.2" width="1.5" height="268.8"/><rect x="468.09" y="1553.6" width="1.5" height="310.4"/><rect x="472.3" y="1538" width="1.5" height="326"/><rect x="476.52" y="1552.8" width="1.5" height="311.2"/><rect x="480.74" y="1565.6" width="1.5" height="298.4"/><rect x="484.96" y="1563.2" width="1.5" height="300.8"/><rect x="489.17" y="1641.2" width="1.5" height="222.8"/><rect x="493.39" y="1752.4" width="1.5" height="111.6"/><rect x="497.61" y="1780.8" width="1.5" height="83.2"/><rect x="501.83" y="1652.8" width="1.5" height="211.2"/><rect x="506.04" y="1601.2" width="1.5" height="262.8"/><rect x="510.26" y="1600.4" width="1.5" height="263.6"/><rect x="514.48" y="1642.8" width="1.5" height="221.2"/><rect x="518.7" y="1589.2" width="1.5" height="274.8"/><rect x="522.91" y="1594" width="1.5" height="270"/><rect x="527.13" y="1649.2" width="1.5" height="214.8"/><rect x="531.35" y="1648.4" width="1.5" height="215.6"/><rect x="535.57" y="1612.8" width="1.5" height="251.2"/><rect x="539.78" y="1615.6" width="1.5" height="248.4"/><rect x="544" y="1555.2" width="1.5" height="308.8"/><rect x="548.22" y="1580.4" width="1.5" height="283.6"/><rect x="552.43" y="1603.2" width="1.5" height="260.8"/><rect x="556.65" y="1608" width="1.5" height="256"/><rect x="560.87" y="1616" width="1.5" height="248"/><rect x="565.09" y="1610.4" width="1.5" height="253.6"/><rect x="569.31" y="1794.8" width="1.5" height="69.2"/><rect x="573.52" y="1784.8" width="1.5" height="79.2"/><rect x="577.74" y="1695.2" width="1.5" height="168.8"/><rect x="581.96" y="1683.2" width="1.5" height="180.8"/><rect x="586.17" y="1606" width="1.5" height="258"/><rect x="590.39" y="1557.2" width="1.5" height="306.8"/><rect x="594.61" y="1577.6" width="1.5" height="286.4"/><rect x="598.83" y="1646" width="1.5" height="218"/><rect x="603.05" y="1626.8" width="1.5" height="237.2"/><rect x="607.26" y="1645.2" width="1.5" height="218.8"/><rect x="611.48" y="1649.2" width="1.5" height="214.8"/><rect x="615.7" y="1631.6" width="1.5" height="232.4"/><rect x="619.91" y="1649.2" width="1.5" height="214.8"/><rect x="624.13" y="1660.4" width="1.5" height="203.6"/><rect x="628.35" y="1617.2" width="1.5" height="246.8"/><rect x="632.57" y="1661.6" width="1.5" height="202.4"/><rect x="636.79" y="1644.4" width="1.5" height="219.6"/><rect x="641" y="1687.2" width="1.5" height="176.8"/><rect x="645.22" y="1768.4" width="1.5" height="95.6"/><rect x="649.44" y="1676" width="1.5" height="188"/><rect x="653.66" y="1691.6" width="1.5" height="172.4"/><rect x="657.87" y="1613.6" width="1.5" height="250.4"/><rect x="662.09" y="1611.2" width="1.5" height="252.8"/><rect x="666.31" y="1612.4" width="1.5" height="251.6"/><rect x="670.52" y="1623.2" width="1.5" height="240.8"/><rect x="674.74" y="1632" width="1.5" height="232"/><rect x="678.96" y="1663.2" width="1.5" height="200.8"/><rect x="683.18" y="1647.2" width="1.5" height="216.8"/><rect x="687.39" y="1669.2" width="1.5" height="194.8"/><rect x="691.61" y="1703.6" width="1.5" height="160.4"/><rect x="695.83" y="1689.2" width="1.5" height="174.8"/><rect x="700.05" y="1718.4" width="1.5" height="145.6"/><rect x="704.26" y="1697.2" width="1.5" height="166.8"/><rect x="708.48" y="1665.2" width="1.5" height="198.8"/><rect x="712.7" y="1686" width="1.5" height="178"/><rect x="716.92" y="1758.8" width="1.5" height="105.2"/><rect x="721.13" y="1838" width="1.5" height="26"/><rect x="725.35" y="1859.2" width="1.5" height="4.8"/><rect x="729.57" y="1829.2" width="1.5" height="34.8"/></g>
<g clip-path="url(#cpd)" fill="#74c0ee" stroke="#4facE4" stroke-width="0.7" opacity="0.94"><rect x="356.11" y="1774.4" width="1.5" height="89.6"/><rect x="360.33" y="1808.4" width="1.5" height="55.6"/><rect x="364.55" y="1801.2" width="1.5" height="62.8"/><rect x="368.76" y="1816.8" width="1.5" height="47.2"/><rect x="372.98" y="1821.2" width="1.5" height="42.8"/><rect x="377.2" y="1815.2" width="1.5" height="48.8"/><rect x="381.42" y="1812.8" width="1.5" height="51.2"/><rect x="385.63" y="1762.8" width="1.5" height="101.2"/><rect x="389.85" y="1720" width="1.5" height="144"/><rect x="394.07" y="1710" width="1.5" height="154"/><rect x="398.29" y="1708" width="1.5" height="156"/><rect x="402.5" y="1675.2" width="1.5" height="188.8"/><rect x="406.72" y="1650.8" width="1.5" height="213.2"/><rect x="410.94" y="1696" width="1.5" height="168"/><rect x="415.16" y="1765.2" width="1.5" height="98.8"/><rect x="419.38" y="1823.6" width="1.5" height="40.4"/><rect x="423.59" y="1823.6" width="1.5" height="40.4"/><rect x="427.81" y="1777.2" width="1.5" height="86.8"/><rect x="432.03" y="1714.8" width="1.5" height="149.2"/><rect x="436.25" y="1720" width="1.5" height="144"/><rect x="440.46" y="1681.2" width="1.5" height="182.8"/><rect x="444.68" y="1715.2" width="1.5" height="148.8"/><rect x="448.9" y="1753.6" width="1.5" height="110.4"/><rect x="453.12" y="1758.4" width="1.5" height="105.6"/><rect x="457.33" y="1787.2" width="1.5" height="76.8"/><rect x="461.55" y="1757.2" width="1.5" height="106.8"/><rect x="465.77" y="1704.8" width="1.5" height="159.2"/><rect x="469.99" y="1664.8" width="1.5" height="199.2"/><rect x="474.2" y="1632" width="1.5" height="232"/><rect x="478.42" y="1623.6" width="1.5" height="240.4"/><rect x="482.64" y="1659.2" width="1.5" height="204.8"/><rect x="486.86" y="1633.2" width="1.5" height="230.8"/><rect x="491.07" y="1730.4" width="1.5" height="133.6"/><rect x="495.29" y="1778.4" width="1.5" height="85.6"/><rect x="499.51" y="1784.4" width="1.5" height="79.6"/><rect x="503.73" y="1772" width="1.5" height="92"/><rect x="507.94" y="1714.8" width="1.5" height="149.2"/><rect x="512.16" y="1717.6" width="1.5" height="146.4"/><rect x="516.38" y="1690.8" width="1.5" height="173.2"/><rect x="520.6" y="1701.6" width="1.5" height="162.4"/><rect x="524.81" y="1719.2" width="1.5" height="144.8"/><rect x="529.03" y="1755.2" width="1.5" height="108.8"/><rect x="533.25" y="1739.6" width="1.5" height="124.4"/><rect x="537.47" y="1763.6" width="1.5" height="100.4"/><rect x="541.68" y="1728.4" width="1.5" height="135.6"/><rect x="545.9" y="1678" width="1.5" height="186"/><rect x="550.12" y="1726" width="1.5" height="138"/><rect x="554.34" y="1721.2" width="1.5" height="142.8"/><rect x="558.55" y="1681.2" width="1.5" height="182.8"/><rect x="562.77" y="1719.2" width="1.5" height="144.8"/><rect x="566.99" y="1706" width="1.5" height="158"/><rect x="571.21" y="1791.2" width="1.5" height="72.8"/><rect x="575.42" y="1824" width="1.5" height="40"/><rect x="579.64" y="1762" width="1.5" height="102"/><rect x="583.86" y="1754.4" width="1.5" height="109.6"/><rect x="588.08" y="1737.2" width="1.5" height="126.8"/><rect x="592.29" y="1732" width="1.5" height="132"/><rect x="596.51" y="1761.2" width="1.5" height="102.8"/><rect x="600.73" y="1711.6" width="1.5" height="152.4"/><rect x="604.95" y="1746" width="1.5" height="118"/><rect x="609.16" y="1786" width="1.5" height="78"/><rect x="613.38" y="1730.8" width="1.5" height="133.2"/><rect x="617.6" y="1696" width="1.5" height="168"/><rect x="621.82" y="1712" width="1.5" height="152"/><rect x="626.03" y="1718" width="1.5" height="146"/><rect x="630.25" y="1735.2" width="1.5" height="128.8"/><rect x="634.47" y="1766.4" width="1.5" height="97.6"/><rect x="638.69" y="1731.6" width="1.5" height="132.4"/><rect x="642.9" y="1753.6" width="1.5" height="110.4"/><rect x="647.12" y="1831.2" width="1.5" height="32.8"/><rect x="651.34" y="1829.6" width="1.5" height="34.4"/><rect x="655.56" y="1781.2" width="1.5" height="82.8"/><rect x="659.77" y="1734" width="1.5" height="130"/><rect x="663.99" y="1736.4" width="1.5" height="127.6"/><rect x="668.21" y="1722" width="1.5" height="142"/><rect x="672.42" y="1752.4" width="1.5" height="111.6"/><rect x="676.64" y="1765.2" width="1.5" height="98.8"/><rect x="680.86" y="1774" width="1.5" height="90"/><rect x="685.08" y="1464" width="1.5" height="400"/><rect x="689.29" y="1705.2" width="1.5" height="158.8"/><rect x="693.51" y="1738" width="1.5" height="126"/><rect x="697.73" y="1639.2" width="1.5" height="224.8"/><rect x="701.95" y="1696.8" width="1.5" height="167.2"/><rect x="706.16" y="1739.6" width="1.5" height="124.4"/><rect x="710.38" y="1696" width="1.5" height="168"/><rect x="714.6" y="1668.4" width="1.5" height="195.6"/><rect x="718.82" y="1762.4" width="1.5" height="101.6"/><rect x="723.03" y="1766" width="1.5" height="98"/><rect x="727.25" y="1807.2" width="1.5" height="56.8"/><rect x="731.47" y="1750" width="1.5" height="114"/><rect x="735.69" y="1635.2" width="1.5" height="228.8"/><rect x="739.9" y="1650.4" width="1.5" height="213.6"/><rect x="744.12" y="1677.2" width="1.5" height="186.8"/><rect x="748.34" y="1713.2" width="1.5" height="150.8"/><rect x="752.56" y="1596.8" width="1.5" height="267.2"/><rect x="756.77" y="1706.4" width="1.5" height="157.6"/><rect x="760.99" y="1686.4" width="1.5" height="177.6"/><rect x="765.21" y="1713.2" width="1.5" height="150.8"/><rect x="769.43" y="1718.4" width="1.5" height="145.6"/><rect x="773.64" y="1687.2" width="1.5" height="176.8"/><rect x="777.86" y="1650.4" width="1.5" height="213.6"/><rect x="782.08" y="1680" width="1.5" height="184"/><rect x="786.3" y="1655.2" width="1.5" height="208.8"/><rect x="790.51" y="1638.4" width="1.5" height="225.6"/><rect x="794.73" y="1660" width="1.5" height="204"/><rect x="798.95" y="1784.8" width="1.5" height="79.2"/><rect x="803.17" y="1736.4" width="1.5" height="127.6"/><rect x="807.38" y="1745.6" width="1.5" height="118.4"/><rect x="811.6" y="1604.4" width="1.5" height="259.6"/><rect x="815.82" y="1613.2" width="1.5" height="250.8"/><rect x="820.04" y="1668" width="1.5" height="196"/><rect x="824.25" y="1593.2" width="1.5" height="270.8"/><rect x="828.47" y="1696" width="1.5" height="168"/><rect x="832.69" y="1707.2" width="1.5" height="156.8"/><rect x="836.91" y="1721.2" width="1.5" height="142.8"/><rect x="841.12" y="1701.6" width="1.5" height="162.4"/><rect x="845.34" y="1689.2" width="1.5" height="174.8"/><rect x="849.56" y="1617.2" width="1.5" height="246.8"/><rect x="853.78" y="1628.4" width="1.5" height="235.6"/><rect x="858" y="1515.2" width="1.5" height="348.8"/><rect x="862.21" y="1628.8" width="1.5" height="235.2"/><rect x="866.43" y="1625.2" width="1.5" height="238.8"/><rect x="870.65" y="1638.4" width="1.5" height="225.6"/><rect x="874.87" y="1771.6" width="1.5" height="92.4"/><rect x="879.08" y="1782" width="1.5" height="82"/><rect x="883.3" y="1687.6" width="1.5" height="176.4"/><rect x="887.52" y="1697.2" width="1.5" height="166.8"/><rect x="891.74" y="1624" width="1.5" height="240"/><rect x="895.95" y="1592.8" width="1.5" height="271.2"/><rect x="900.17" y="1642.4" width="1.5" height="221.6"/><rect x="904.39" y="1738.4" width="1.5" height="125.6"/><rect x="908.61" y="1660.4" width="1.5" height="203.6"/><rect x="912.82" y="1744" width="1.5" height="120"/><rect x="917.04" y="1756.4" width="1.5" height="107.6"/><rect x="921.26" y="1639.2" width="1.5" height="224.8"/><rect x="925.48" y="1582" width="1.5" height="282"/><rect x="929.69" y="1653.6" width="1.5" height="210.4"/><rect x="933.91" y="1562.8" width="1.5" height="301.2"/><rect x="938.13" y="1630" width="1.5" height="234"/><rect x="942.35" y="1651.2" width="1.5" height="212.8"/><rect x="946.56" y="1622.4" width="1.5" height="241.6"/><rect x="950.78" y="1576" width="1.5" height="288"/><rect x="955" y="1668" width="1.5" height="196"/><rect x="959.22" y="1675.6" width="1.5" height="188.4"/><rect x="963.43" y="1694.8" width="1.5" height="169.2"/><rect x="967.65" y="1782" width="1.5" height="82"/></g>
<rect x="121.5" y="1444" width="848.5" height="439.3" fill="none" stroke="#111" stroke-width="1.5"/>
<line x1="107.5" y1="1464" x2="121.5" y2="1464" stroke="#222" stroke-width="1.4"/>
<text x="95.3" y="1472" font-size="23.2" text-anchor="end" fill="#111" textLength="51" lengthAdjust="spacingAndGlyphs">1.00</text>
<line x1="107.5" y1="1564" x2="121.5" y2="1564" stroke="#222" stroke-width="1.4"/>
<text x="95.3" y="1572" font-size="23.2" text-anchor="end" fill="#111" textLength="51" lengthAdjust="spacingAndGlyphs">0.75</text>
<line x1="107.5" y1="1664" x2="121.5" y2="1664" stroke="#222" stroke-width="1.4"/>
<text x="95.3" y="1672" font-size="23.2" text-anchor="end" fill="#111" textLength="51" lengthAdjust="spacingAndGlyphs">0.50</text>
<line x1="107.5" y1="1764" x2="121.5" y2="1764" stroke="#222" stroke-width="1.4"/>
<text x="95.3" y="1772" font-size="23.2" text-anchor="end" fill="#111" textLength="51" lengthAdjust="spacingAndGlyphs">0.25</text>
<line x1="107.5" y1="1864" x2="121.5" y2="1864" stroke="#222" stroke-width="1.4"/>
<text x="95.3" y="1872" font-size="23.2" text-anchor="end" fill="#111" textLength="14.2" lengthAdjust="spacingAndGlyphs">0</text>
<line x1="124" y1="1883.3" x2="124" y2="1897.8" stroke="#222" stroke-width="1.5"/>
<text x="124" y="1929.2" font-size="22.9" text-anchor="middle" fill="#111" textLength="35" lengthAdjust="spacingAndGlyphs">331</text>
<line x1="166.18" y1="1883.3" x2="166.18" y2="1897.8" stroke="#222" stroke-width="1.5"/>
<text x="166.18" y="1929.2" font-size="22.9" text-anchor="middle" fill="#111" textLength="35" lengthAdjust="spacingAndGlyphs">341</text>
<line x1="208.35" y1="1883.3" x2="208.35" y2="1897.8" stroke="#222" stroke-width="1.5"/>
<text x="208.35" y="1929.2" font-size="22.9" text-anchor="middle" fill="#111" textLength="35" lengthAdjust="spacingAndGlyphs">351</text>
<line x1="250.52" y1="1883.3" x2="250.52" y2="1897.8" stroke="#222" stroke-width="1.5"/>
<text x="250.52" y="1929.2" font-size="22.9" text-anchor="middle" fill="#111" textLength="35" lengthAdjust="spacingAndGlyphs">361</text>
<line x1="292.7" y1="1883.3" x2="292.7" y2="1897.8" stroke="#222" stroke-width="1.5"/>
<text x="292.7" y="1929.2" font-size="22.9" text-anchor="middle" fill="#111" textLength="35" lengthAdjust="spacingAndGlyphs">371</text>
<line x1="334.88" y1="1883.3" x2="334.88" y2="1897.8" stroke="#222" stroke-width="1.5"/>
<text x="334.88" y="1929.2" font-size="22.9" text-anchor="middle" fill="#111" textLength="35" lengthAdjust="spacingAndGlyphs">381</text>
<line x1="377.05" y1="1883.3" x2="377.05" y2="1897.8" stroke="#222" stroke-width="1.5"/>
<text x="377.05" y="1929.2" font-size="22.9" text-anchor="middle" fill="#111" textLength="35" lengthAdjust="spacingAndGlyphs">391</text>
<line x1="419.22" y1="1883.3" x2="419.22" y2="1897.8" stroke="#222" stroke-width="1.5"/>
<text x="419.22" y="1929.2" font-size="22.9" text-anchor="middle" fill="#111" textLength="35" lengthAdjust="spacingAndGlyphs">401</text>
<line x1="461.4" y1="1883.3" x2="461.4" y2="1897.8" stroke="#222" stroke-width="1.5"/>
<text x="461.4" y="1929.2" font-size="22.9" text-anchor="middle" fill="#111" textLength="30.6" lengthAdjust="spacingAndGlyphs">411</text>
<line x1="503.57" y1="1883.3" x2="503.57" y2="1897.8" stroke="#222" stroke-width="1.5"/>
<text x="503.57" y="1929.2" font-size="22.9" text-anchor="middle" fill="#111" textLength="35" lengthAdjust="spacingAndGlyphs">421</text>
<line x1="545.75" y1="1883.3" x2="545.75" y2="1897.8" stroke="#222" stroke-width="1.5"/>
<text x="545.75" y="1929.2" font-size="22.9" text-anchor="middle" fill="#111" textLength="35" lengthAdjust="spacingAndGlyphs">431</text>
<line x1="587.92" y1="1883.3" x2="587.92" y2="1897.8" stroke="#222" stroke-width="1.5"/>
<text x="587.92" y="1929.2" font-size="22.9" text-anchor="middle" fill="#111" textLength="35" lengthAdjust="spacingAndGlyphs">441</text>
<line x1="630.1" y1="1883.3" x2="630.1" y2="1897.8" stroke="#222" stroke-width="1.5"/>
<text x="630.1" y="1929.2" font-size="22.9" text-anchor="middle" fill="#111" textLength="35" lengthAdjust="spacingAndGlyphs">451</text>
<line x1="672.27" y1="1883.3" x2="672.27" y2="1897.8" stroke="#222" stroke-width="1.5"/>
<text x="672.27" y="1929.2" font-size="22.9" text-anchor="middle" fill="#111" textLength="35" lengthAdjust="spacingAndGlyphs">461</text>
<line x1="714.45" y1="1883.3" x2="714.45" y2="1897.8" stroke="#222" stroke-width="1.5"/>
<text x="714.45" y="1929.2" font-size="22.9" text-anchor="middle" fill="#111" textLength="35" lengthAdjust="spacingAndGlyphs">471</text>
<line x1="756.62" y1="1883.3" x2="756.62" y2="1897.8" stroke="#222" stroke-width="1.5"/>
<text x="756.62" y="1929.2" font-size="22.9" text-anchor="middle" fill="#111" textLength="35" lengthAdjust="spacingAndGlyphs">481</text>
<line x1="798.8" y1="1883.3" x2="798.8" y2="1897.8" stroke="#222" stroke-width="1.5"/>
<text x="798.8" y="1929.2" font-size="22.9" text-anchor="middle" fill="#111" textLength="35" lengthAdjust="spacingAndGlyphs">491</text>
<line x1="840.97" y1="1883.3" x2="840.97" y2="1897.8" stroke="#222" stroke-width="1.5"/>
<text x="840.97" y="1929.2" font-size="22.9" text-anchor="middle" fill="#111" textLength="35" lengthAdjust="spacingAndGlyphs">501</text>
<line x1="883.15" y1="1883.3" x2="883.15" y2="1897.8" stroke="#222" stroke-width="1.5"/>
<text x="883.15" y="1929.2" font-size="22.9" text-anchor="middle" fill="#111" textLength="30.6" lengthAdjust="spacingAndGlyphs">511</text>
<line x1="925.32" y1="1883.3" x2="925.32" y2="1897.8" stroke="#222" stroke-width="1.5"/>
<text x="925.32" y="1929.2" font-size="22.9" text-anchor="middle" fill="#111" textLength="35" lengthAdjust="spacingAndGlyphs">521</text>
<line x1="967.5" y1="1883.3" x2="967.5" y2="1897.8" stroke="#222" stroke-width="1.5"/>
<text x="967.5" y="1929.2" font-size="22.9" text-anchor="middle" fill="#111" textLength="35" lengthAdjust="spacingAndGlyphs">531</text>
<text x="460.3" y="1968.8" font-size="25.6" fill="#111" textLength="100.3" lengthAdjust="spacingAndGlyphs">Position</text>
<text x="23.4" y="1664" font-size="27.6" text-anchor="middle" fill="#111" textLength="134.5" lengthAdjust="spacingAndGlyphs" transform="rotate(-90 23.4 1664)">Frequency</text>
<text x="996" y="1427.9" font-size="38.5" font-weight="bold" fill="#000" stroke="#000" stroke-width="1.5" stroke-linejoin="round" textLength="22.7" lengthAdjust="spacingAndGlyphs">e</text>
<rect x="1117.5" y="1444.5" width="805" height="444.5" fill="#fff" stroke="#111" stroke-width="1.5"/>
<g fill="#f1ddd3" stroke="#111" stroke-width="1.5"><rect x="1153.7" y="1464.5" width="41.6" height="404"/></g>
<g fill="#c0dcf0" stroke="#111" stroke-width="1.5"><rect x="1199.7" y="1537.22" width="41.6" height="331.28"/><rect x="1245.7" y="1464.5" width="41.6" height="404"/><rect x="1291.7" y="1515" width="41.6" height="353.5"/><rect x="1337.7" y="1562.67" width="41.6" height="305.83"/><rect x="1383.7" y="1646.3" width="41.6" height="222.2"/><rect x="1429.7" y="1716.6" width="41.6" height="151.9"/><rect x="1475.7" y="1776.79" width="41.6" height="91.71"/><rect x="1521.7" y="1813.96" width="41.6" height="54.54"/><rect x="1567.7" y="1840.22" width="41.6" height="28.28"/><rect x="1613.7" y="1853.15" width="41.6" height="15.35"/><rect x="1659.7" y="1859.61" width="41.6" height="8.89"/><rect x="1705.7" y="1863.25" width="41.6" height="5.25"/><rect x="1751.7" y="1866.08" width="41.6" height="2.42"/><rect x="1797.7" y="1867.29" width="41.6" height="1.21"/><rect x="1843.7" y="1867.69" width="41.6" height="0.81"/></g>
<g fill="#cddbd3" stroke="#111" stroke-width="1.5"><rect x="1153.7" y="1565.5" width="41.6" height="303"/><rect x="1199.7" y="1589.74" width="41.6" height="278.76"/><rect x="1245.7" y="1598.63" width="41.6" height="269.87"/><rect x="1291.7" y="1700.84" width="41.6" height="167.66"/><rect x="1337.7" y="1759.42" width="41.6" height="109.08"/><rect x="1383.7" y="1807.9" width="41.6" height="60.6"/><rect x="1429.7" y="1836.99" width="41.6" height="31.51"/><rect x="1475.7" y="1852.34" width="41.6" height="16.16"/><rect x="1521.7" y="1860.42" width="41.6" height="8.08"/><rect x="1567.7" y="1864.46" width="41.6" height="4.04"/><rect x="1613.7" y="1866.48" width="41.6" height="2.02"/><rect x="1659.7" y="1867.69" width="41.6" height="0.81"/><rect x="1705.7" y="1868.1" width="41.6" height="0.4"/></g>
<g fill="#ddd4d0" stroke="#111" stroke-width="1.5"><rect x="1153.7" y="1565.5" width="41.6" height="303"/><rect x="1199.7" y="1677.41" width="41.6" height="191.09"/><rect x="1245.7" y="1727.1" width="41.6" height="141.4"/><rect x="1291.7" y="1803.05" width="41.6" height="65.45"/><rect x="1337.7" y="1834.16" width="41.6" height="34.34"/><rect x="1383.7" y="1853.55" width="41.6" height="14.95"/><rect x="1429.7" y="1861.63" width="41.6" height="6.87"/><rect x="1475.7" y="1865.27" width="41.6" height="3.23"/><rect x="1521.7" y="1866.88" width="41.6" height="1.62"/><rect x="1567.7" y="1867.69" width="41.6" height="0.81"/><rect x="1613.7" y="1868.1" width="41.6" height="0.4"/></g>
<line x1="1154.5" y1="1565.5" x2="1194.5" y2="1565.5" stroke="#b4aaa4" stroke-width="0.9"/>
<line x1="1104" y1="1464.5" x2="1117.5" y2="1464.5" stroke="#222" stroke-width="1.4"/>
<text x="1090.5" y="1472.5" font-size="23.2" text-anchor="end" fill="#111" textLength="49.3" lengthAdjust="spacingAndGlyphs">1.00</text>
<line x1="1104" y1="1565.5" x2="1117.5" y2="1565.5" stroke="#222" stroke-width="1.4"/>
<text x="1090.5" y="1573.5" font-size="23.2" text-anchor="end" fill="#111" textLength="49.3" lengthAdjust="spacingAndGlyphs">0.75</text>
<line x1="1104" y1="1666.5" x2="1117.5" y2="1666.5" stroke="#222" stroke-width="1.4"/>
<text x="1090.5" y="1674.5" font-size="23.2" text-anchor="end" fill="#111" textLength="49.3" lengthAdjust="spacingAndGlyphs">0.50</text>
<line x1="1104" y1="1767.5" x2="1117.5" y2="1767.5" stroke="#222" stroke-width="1.4"/>
<text x="1090.5" y="1775.5" font-size="23.2" text-anchor="end" fill="#111" textLength="49.3" lengthAdjust="spacingAndGlyphs">0.25</text>
<line x1="1104" y1="1868.5" x2="1117.5" y2="1868.5" stroke="#222" stroke-width="1.4"/>
<text x="1090.5" y="1876.5" font-size="23.2" text-anchor="end" fill="#111" textLength="14.2" lengthAdjust="spacingAndGlyphs">0</text>
<line x1="1174.5" y1="1889" x2="1174.5" y2="1903" stroke="#222" stroke-width="1.5"/>
<text x="1174.5" y="1933" font-size="23.2" text-anchor="middle" fill="#111" textLength="13.6" lengthAdjust="spacingAndGlyphs">0</text>
<line x1="1404.5" y1="1889" x2="1404.5" y2="1903" stroke="#222" stroke-width="1.5"/>
<text x="1404.5" y="1933" font-size="23.2" text-anchor="middle" fill="#111" textLength="13.6" lengthAdjust="spacingAndGlyphs">5</text>
<line x1="1634.5" y1="1889" x2="1634.5" y2="1903" stroke="#222" stroke-width="1.5"/>
<text x="1634.5" y="1933" font-size="23.2" text-anchor="middle" fill="#111" textLength="24.5" lengthAdjust="spacingAndGlyphs">10</text>
<line x1="1864.5" y1="1889" x2="1864.5" y2="1903" stroke="#222" stroke-width="1.5"/>
<text x="1864.5" y="1933" font-size="23.2" text-anchor="middle" fill="#111" textLength="24.5" lengthAdjust="spacingAndGlyphs">15</text>
<text x="1405.5" y="1975.3" font-size="30" fill="#111" textLength="269" lengthAdjust="spacingAndGlyphs">Number of mutations</text>
<text x="1019.4" y="1666" font-size="27.8" text-anchor="middle" fill="#111" textLength="134.5" lengthAdjust="spacingAndGlyphs" transform="rotate(-90 1019.4 1666)">Frequency</text>
<rect x="1697" y="1468.5" width="24.3" height="24" fill="#bcdcf2" stroke="#1e1e1e" stroke-width="1.2"/>
<text x="1736.3" y="1487.6" font-size="23.2" fill="#111" textLength="158" lengthAdjust="spacingAndGlyphs">60%/20%/20%</text>
<rect x="1697" y="1506.9" width="24.3" height="24" fill="#cddcd4" stroke="#1e1e1e" stroke-width="1.2"/>
<text x="1736.3" y="1525.9" font-size="23.2" fill="#111" textLength="144.5" lengthAdjust="spacingAndGlyphs">70%/15%/15%</text>
<rect x="1697" y="1545.3" width="24.3" height="24" fill="#f1ddd3" stroke="#1e1e1e" stroke-width="1.2"/>
<text x="1736.3" y="1564.2" font-size="23.2" fill="#111" textLength="150.5" lengthAdjust="spacingAndGlyphs">80%/10%/10%</text>
</svg>
</body></html>
